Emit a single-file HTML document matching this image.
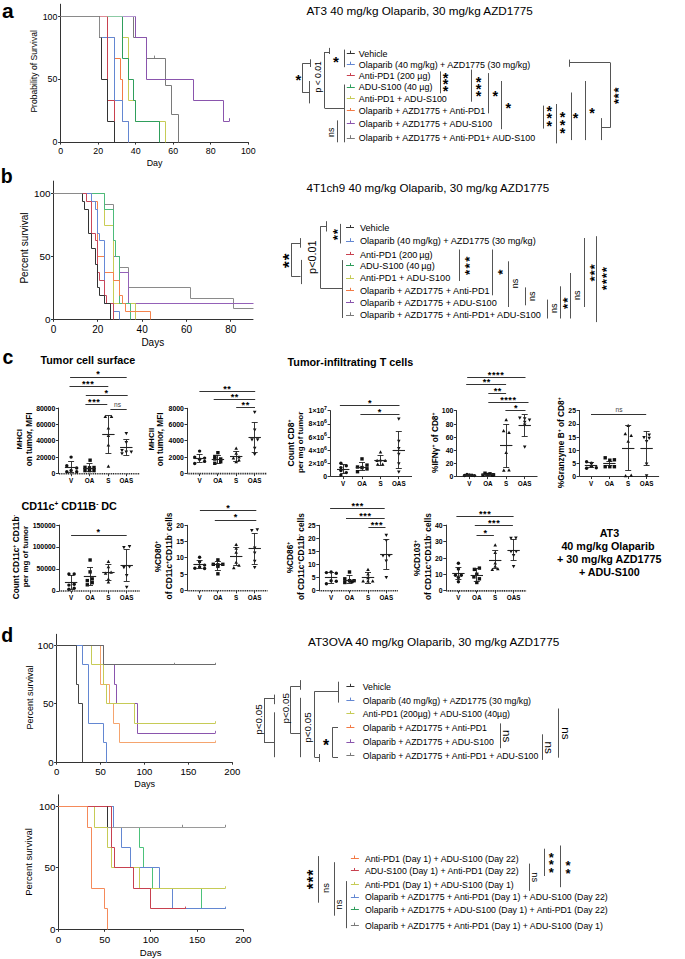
<!DOCTYPE html>
<html><head><meta charset="utf-8"><title>Figure</title>
<style>
html,body{margin:0;padding:0;background:#fff;}
body{width:685px;height:959px;overflow:hidden;}
svg{display:block;font-family:"Liberation Sans",sans-serif;}
</style></head><body>
<svg width="685" height="959" viewBox="0 0 685 959">
<rect width="685" height="959" fill="#fff"/>
<text x="2.00" y="17.60" font-size="21.00" font-weight="bold">a</text>
<line x1="60.50" y1="3.80" x2="60.50" y2="142.10" stroke="#333333" stroke-width="1.0"/>
<line x1="60.60" y1="142.50" x2="248.30" y2="142.50" stroke="#333333" stroke-width="1.0"/>
<line x1="58.10" y1="16.50" x2="60.60" y2="16.50" stroke="#333333" stroke-width="1.0"/>
<text x="57.40" y="19.70" font-size="8.80" text-anchor="end">100</text>
<line x1="58.10" y1="79.50" x2="60.60" y2="79.50" stroke="#333333" stroke-width="1.0"/>
<text x="57.40" y="82.45" font-size="8.80" text-anchor="end">50</text>
<line x1="58.10" y1="142.50" x2="60.60" y2="142.50" stroke="#333333" stroke-width="1.0"/>
<text x="57.40" y="145.20" font-size="8.80" text-anchor="end">0</text>
<line x1="60.50" y1="142.10" x2="60.50" y2="144.60" stroke="#333333" stroke-width="1.0"/>
<text x="60.60" y="153.80" font-size="8.80" text-anchor="middle">0</text>
<line x1="98.50" y1="142.10" x2="98.50" y2="144.60" stroke="#333333" stroke-width="1.0"/>
<text x="98.14" y="153.80" font-size="8.80" text-anchor="middle">20</text>
<line x1="135.50" y1="142.10" x2="135.50" y2="144.60" stroke="#333333" stroke-width="1.0"/>
<text x="135.68" y="153.80" font-size="8.80" text-anchor="middle">40</text>
<line x1="173.50" y1="142.10" x2="173.50" y2="144.60" stroke="#333333" stroke-width="1.0"/>
<text x="173.22" y="153.80" font-size="8.80" text-anchor="middle">60</text>
<line x1="210.50" y1="142.10" x2="210.50" y2="144.60" stroke="#333333" stroke-width="1.0"/>
<text x="210.76" y="153.80" font-size="8.80" text-anchor="middle">80</text>
<line x1="248.50" y1="142.10" x2="248.50" y2="144.60" stroke="#333333" stroke-width="1.0"/>
<text x="248.30" y="153.80" font-size="8.80" text-anchor="middle">100</text>
<text x="154.60" y="165.80" font-size="8.90" text-anchor="middle">Day</text>
<text x="37.30" y="71.30" font-size="8.60" text-anchor="middle" transform="rotate(-90 37.30 71.30)">Probability of Survival</text>
<path d="M60.50,16.50 L133.50,16.50 L133.50,37.50 L146.50,37.50 L146.50,58.50 L165.50,58.50 L165.50,85.50 L171.50,85.50 L171.50,114.50 L178.50,114.50 L178.50,142.50" stroke="#7a7a7a" stroke-width="1.0" fill="none"/>
<line x1="154.50" y1="58.20" x2="154.50" y2="55.60" stroke="#7a7a7a" stroke-width="0.9"/>
<path d="M60.50,16.50 L135.50,16.50 L135.50,37.50 L146.50,37.50 L146.50,79.50 L193.50,79.50 L193.50,100.50 L223.50,100.50 L223.50,121.50 L229.50,121.50" stroke="#8a55ad" stroke-width="1.0" fill="none"/>
<line x1="229.50" y1="121.20" x2="229.50" y2="118.20" stroke="#8a55ad" stroke-width="1.0"/>
<path d="M60.50,16.50 L122.50,16.50 L122.50,37.50 L128.50,37.50 L128.50,100.50 L133.50,100.50 L133.50,100.50 L135.50,100.50 L135.50,121.50 L165.50,121.50 L165.50,142.50" stroke="#c6cb56" stroke-width="1.0" fill="none"/>
<path d="M60.50,16.50 L122.50,16.50 L122.50,58.50 L128.50,58.50 L128.50,79.50 L133.50,79.50 L133.50,100.50 L135.50,100.50 L135.50,121.50 L159.50,121.50 L159.50,142.50" stroke="#2f9e5c" stroke-width="1.0" fill="none"/>
<path d="M60.50,16.50 L99.50,16.50 L99.50,37.50 L114.50,37.50 L114.50,58.50 L120.50,58.50 L120.50,79.50 L122.50,79.50 L122.50,121.50 L128.50,121.50 L128.50,142.50" stroke="#f27a45" stroke-width="1.0" fill="none"/>
<path d="M60.50,16.50 L99.50,16.50 L99.50,37.50 L114.50,37.50 L114.50,100.50 L122.50,100.50 L122.50,121.50 L128.50,121.50 L128.50,142.50" stroke="#6387d2" stroke-width="1.0" fill="none"/>
<path d="M60.50,16.50 L107.50,16.50 L107.50,100.50 L114.50,100.50 L114.50,121.50" stroke="#c8414f" stroke-width="1.0" fill="none"/>
<path d="M60.50,16.50 L99.50,16.50 L99.50,37.50 L101.50,37.50 L101.50,79.50 L107.50,79.50 L107.50,121.50 L114.50,121.50 L114.50,142.50" stroke="#333333" stroke-width="1.0" fill="none"/>
<path d="M60.50,16.50 L99.50,16.50 L99.50,37.50 L101.50,37.50" stroke="#8a8a8a" stroke-width="1.0" fill="none"/>
<line x1="99.90" y1="16.50" x2="107.50" y2="16.50" stroke="#dc8c96" stroke-width="1.0"/>
<line x1="107.50" y1="16.50" x2="122.40" y2="16.50" stroke="#8ccaa4" stroke-width="1.0"/>
<line x1="122.40" y1="16.50" x2="135.60" y2="16.50" stroke="#b497d0" stroke-width="1.0"/>
<text x="306.40" y="15.00" font-size="11.72">AT3 40 mg/kg Olaparib, 30 mg/kg AZD1775</text>
<line x1="346.80" y1="53.50" x2="354.80" y2="53.50" stroke="#333333" stroke-width="1.0"/>
<line x1="350.50" y1="50.70" x2="350.50" y2="53.50" stroke="#333333" stroke-width="1.0"/>
<text x="358.80" y="56.70" font-size="8.93">Vehicle</text>
<line x1="346.80" y1="64.50" x2="354.80" y2="64.50" stroke="#6387d2" stroke-width="1.0"/>
<line x1="350.50" y1="61.70" x2="350.50" y2="64.50" stroke="#6387d2" stroke-width="1.0"/>
<text x="358.80" y="67.70" font-size="8.93">Olaparib (40 mg/kg) + AZD1775 (30 mg/kg)</text>
<line x1="346.80" y1="75.50" x2="354.80" y2="75.50" stroke="#c8414f" stroke-width="1.0"/>
<line x1="350.50" y1="73.10" x2="350.50" y2="75.90" stroke="#c8414f" stroke-width="1.0"/>
<text x="358.80" y="79.10" font-size="8.93">Anti-PD1 (200 µg)</text>
<line x1="346.80" y1="87.50" x2="354.80" y2="87.50" stroke="#2f9e5c" stroke-width="1.0"/>
<line x1="350.50" y1="84.40" x2="350.50" y2="87.20" stroke="#2f9e5c" stroke-width="1.0"/>
<text x="358.80" y="90.40" font-size="8.93">ADU-S100 (40 µg)</text>
<line x1="346.80" y1="98.50" x2="354.80" y2="98.50" stroke="#c6cb56" stroke-width="1.0"/>
<line x1="350.50" y1="96.10" x2="350.50" y2="98.90" stroke="#c6cb56" stroke-width="1.0"/>
<text x="358.80" y="102.10" font-size="8.93">Anti-PD1 + ADU-S100</text>
<line x1="346.80" y1="110.50" x2="354.80" y2="110.50" stroke="#f27a45" stroke-width="1.0"/>
<line x1="350.50" y1="108.00" x2="350.50" y2="110.80" stroke="#f27a45" stroke-width="1.0"/>
<text x="358.80" y="114.00" font-size="8.93">Olaparib + AZD1775 + Anti-PD1</text>
<line x1="346.80" y1="123.50" x2="354.80" y2="123.50" stroke="#8a55ad" stroke-width="1.0"/>
<line x1="350.50" y1="120.60" x2="350.50" y2="123.40" stroke="#8a55ad" stroke-width="1.0"/>
<text x="358.80" y="126.60" font-size="8.93">Olaparib + AZD1775 + ADU-S100</text>
<line x1="346.80" y1="138.50" x2="354.80" y2="138.50" stroke="#7a7a7a" stroke-width="1.0"/>
<line x1="350.50" y1="135.20" x2="350.50" y2="138.00" stroke="#7a7a7a" stroke-width="1.0"/>
<text x="358.80" y="141.20" font-size="8.93">Olaparib + AZD1775 + Anti-PD1+ AUD-S100</text>
<line x1="344.50" y1="49.60" x2="344.50" y2="67.20" stroke="#555" stroke-width="1.0"/>
<text x="333.05" y="66.59" font-size="15.10" font-weight="bold">*</text>
<line x1="329.50" y1="47.90" x2="329.50" y2="54.00" stroke="#555" stroke-width="1.0"/>
<line x1="324.70" y1="52.50" x2="329.60" y2="52.50" stroke="#555" stroke-width="1.0"/>
<line x1="324.50" y1="52.00" x2="324.50" y2="108.20" stroke="#555" stroke-width="1.0"/>
<line x1="324.70" y1="108.50" x2="344.00" y2="108.50" stroke="#555" stroke-width="1.0"/>
<line x1="344.50" y1="84.50" x2="344.50" y2="142.30" stroke="#555" stroke-width="1.0"/>
<line x1="337.50" y1="120.40" x2="337.50" y2="142.30" stroke="#555" stroke-width="1.0"/>
<text x="334.30" y="132.20" font-size="8.90" text-anchor="middle" transform="rotate(-90 334.30 132.20)">ns</text>
<text x="320.80" y="76.80" font-size="8.62" text-anchor="middle" transform="rotate(-90 320.80 76.80)">p < 0.01</text>
<line x1="310.50" y1="59.30" x2="310.50" y2="67.00" stroke="#555" stroke-width="1.0"/>
<line x1="302.20" y1="63.50" x2="310.70" y2="63.50" stroke="#555" stroke-width="1.0"/>
<line x1="302.50" y1="63.90" x2="302.50" y2="92.40" stroke="#555" stroke-width="1.0"/>
<line x1="302.20" y1="92.50" x2="309.40" y2="92.50" stroke="#555" stroke-width="1.0"/>
<line x1="309.50" y1="81.00" x2="309.50" y2="103.40" stroke="#555" stroke-width="1.0"/>
<text x="295.56" y="84.83" font-size="14.58" font-weight="bold">*</text>
<line x1="440.50" y1="71.40" x2="440.50" y2="93.30" stroke="#555" stroke-width="1.0"/>
<text x="442.71" y="82.50" font-size="14.32" font-weight="bold">*</text>
<text x="442.71" y="89.10" font-size="14.32" font-weight="bold">*</text>
<text x="442.71" y="96.00" font-size="14.32" font-weight="bold">*</text>
<line x1="471.50" y1="69.60" x2="471.50" y2="101.70" stroke="#555" stroke-width="1.0"/>
<text x="475.81" y="86.90" font-size="14.32" font-weight="bold">*</text>
<text x="475.81" y="93.60" font-size="14.32" font-weight="bold">*</text>
<text x="475.81" y="100.50" font-size="14.32" font-weight="bold">*</text>
<line x1="488.50" y1="73.10" x2="488.50" y2="113.40" stroke="#555" stroke-width="1.0"/>
<text x="492.41" y="101.40" font-size="14.32" font-weight="bold">*</text>
<line x1="501.50" y1="81.00" x2="501.50" y2="129.20" stroke="#555" stroke-width="1.0"/>
<text x="505.51" y="113.10" font-size="14.32" font-weight="bold">*</text>
<line x1="543.50" y1="105.60" x2="543.50" y2="128.60" stroke="#555" stroke-width="1.0"/>
<text x="546.61" y="116.10" font-size="14.32" font-weight="bold">*</text>
<text x="546.61" y="123.30" font-size="14.32" font-weight="bold">*</text>
<text x="546.61" y="130.80" font-size="14.32" font-weight="bold">*</text>
<line x1="556.50" y1="104.00" x2="556.50" y2="143.40" stroke="#555" stroke-width="1.0"/>
<text x="559.71" y="122.00" font-size="14.32" font-weight="bold">*</text>
<text x="559.71" y="129.80" font-size="14.32" font-weight="bold">*</text>
<text x="559.71" y="137.60" font-size="14.32" font-weight="bold">*</text>
<line x1="571.50" y1="92.50" x2="571.50" y2="140.10" stroke="#555" stroke-width="1.0"/>
<text x="572.81" y="123.30" font-size="14.32" font-weight="bold">*</text>
<line x1="585.50" y1="81.00" x2="585.50" y2="140.10" stroke="#555" stroke-width="1.0"/>
<text x="589.21" y="118.40" font-size="14.32" font-weight="bold">*</text>
<line x1="569.50" y1="59.60" x2="569.50" y2="66.80" stroke="#555" stroke-width="1.0"/>
<line x1="569.40" y1="62.50" x2="610.50" y2="62.50" stroke="#555" stroke-width="1.0"/>
<line x1="610.50" y1="62.90" x2="610.50" y2="127.60" stroke="#555" stroke-width="1.0"/>
<line x1="601.30" y1="127.50" x2="610.50" y2="127.50" stroke="#555" stroke-width="1.0"/>
<line x1="601.50" y1="118.10" x2="601.50" y2="140.10" stroke="#555" stroke-width="1.0"/>
<text x="614.06" y="96.54" font-size="13.02" font-weight="bold" transform="rotate(-90 616.60 90.00)">*</text>
<text x="614.06" y="102.44" font-size="13.02" font-weight="bold" transform="rotate(-90 616.60 95.90)">*</text>
<text x="614.06" y="108.04" font-size="13.02" font-weight="bold" transform="rotate(-90 616.60 101.50)">*</text>
<text x="0.80" y="183.20" font-size="19.50" font-weight="bold">b</text>
<line x1="53.50" y1="180.70" x2="53.50" y2="319.30" stroke="#333333" stroke-width="1.0"/>
<line x1="53.50" y1="319.50" x2="253.40" y2="319.50" stroke="#333333" stroke-width="1.0"/>
<line x1="51.00" y1="193.50" x2="53.50" y2="193.50" stroke="#333333" stroke-width="1.0"/>
<text x="50.50" y="197.30" font-size="9.90" text-anchor="end">100</text>
<line x1="51.00" y1="256.50" x2="53.50" y2="256.50" stroke="#333333" stroke-width="1.0"/>
<text x="50.50" y="260.10" font-size="9.90" text-anchor="end">50</text>
<line x1="51.00" y1="319.50" x2="53.50" y2="319.50" stroke="#333333" stroke-width="1.0"/>
<text x="50.50" y="322.90" font-size="9.90" text-anchor="end">0</text>
<line x1="53.50" y1="319.30" x2="53.50" y2="321.80" stroke="#333333" stroke-width="1.0"/>
<text x="53.50" y="332.90" font-size="10.00" text-anchor="middle">0</text>
<line x1="97.50" y1="319.30" x2="97.50" y2="321.80" stroke="#333333" stroke-width="1.0"/>
<text x="97.84" y="332.90" font-size="10.00" text-anchor="middle">20</text>
<line x1="142.50" y1="319.30" x2="142.50" y2="321.80" stroke="#333333" stroke-width="1.0"/>
<text x="142.18" y="332.90" font-size="10.00" text-anchor="middle">40</text>
<line x1="186.50" y1="319.30" x2="186.50" y2="321.80" stroke="#333333" stroke-width="1.0"/>
<text x="186.52" y="332.90" font-size="10.00" text-anchor="middle">60</text>
<line x1="230.50" y1="319.30" x2="230.50" y2="321.80" stroke="#333333" stroke-width="1.0"/>
<text x="230.86" y="332.90" font-size="10.00" text-anchor="middle">80</text>
<text x="152.80" y="346.20" font-size="10.00" text-anchor="middle">Days</text>
<text x="27.60" y="248.00" font-size="10.00" text-anchor="middle" transform="rotate(-90 27.60 248.00)">Percent survival</text>
<path d="M53.50,193.50 L104.50,193.50 L104.50,204.50 L113.50,204.50 L113.50,256.50 L119.50,256.50 L119.50,267.50 L128.50,267.50 L128.50,287.50 L190.50,287.50 L190.50,298.50 L233.50,298.50 L233.50,308.50 L253.50,308.50" stroke="#8a8a8a" stroke-width="1.0" fill="none"/>
<path d="M53.50,193.50 L104.50,193.50 L104.50,209.50 L113.50,209.50 L113.50,256.50 L119.50,256.50 L119.50,272.50 L128.50,272.50 L128.50,303.50 L253.50,303.50" stroke="#9461b8" stroke-width="1.0" fill="none"/>
<path d="M53.50,193.50 L104.50,193.50 L104.50,225.50 L113.50,225.50 L113.50,303.50 L135.50,303.50 L135.50,319.50" stroke="#c9cc55" stroke-width="1.0" fill="none"/>
<path d="M53.50,193.50 L104.50,193.50 L104.50,209.50 L113.50,209.50 L113.50,240.50 L115.50,240.50 L115.50,256.50 L119.50,256.50 L119.50,303.50 L130.50,303.50 L130.50,319.50" stroke="#4dbb7a" stroke-width="1.0" fill="none"/>
<path d="M53.50,193.50 L91.50,193.50 L91.50,201.50 L97.50,201.50 L97.50,256.50 L104.50,256.50 L104.50,272.50 L113.50,272.50 L113.50,280.50 L119.50,280.50 L119.50,295.50 L122.50,295.50 L122.50,303.50 L125.50,303.50 L125.50,311.50 L150.50,311.50 L150.50,319.50" stroke="#f5834d" stroke-width="1.0" fill="none"/>
<path d="M53.50,193.50 L91.50,193.50 L91.50,201.50 L95.50,201.50 L95.50,209.50 L97.50,209.50 L97.50,233.50 L99.50,233.50 L99.50,240.50 L104.50,240.50 L104.50,303.50 L113.50,303.50 L113.50,311.50 L119.50,311.50 L119.50,319.50" stroke="#6689d6" stroke-width="1.0" fill="none"/>
<path d="M53.50,193.50 L86.50,193.50 L86.50,201.50 L91.50,201.50 L91.50,233.50 L95.50,233.50 L95.50,240.50 L97.50,240.50 L97.50,272.50 L99.50,272.50 L99.50,280.50 L104.50,280.50 L104.50,295.50 L106.50,295.50 L106.50,303.50 L113.50,303.50 L113.50,319.50" stroke="#c9475a" stroke-width="1.0" fill="none"/>
<path d="M53.50,193.50 L82.50,193.50 L82.50,201.50 L84.50,201.50 L84.50,209.50 L88.50,209.50 L88.50,233.50 L91.50,233.50 L91.50,248.50 L95.50,248.50 L95.50,264.50 L97.50,264.50 L97.50,287.50 L99.50,287.50 L99.50,295.50 L104.50,295.50 L104.50,303.50 L110.50,303.50 L110.50,319.50" stroke="#333333" stroke-width="1.0" fill="none"/>
<path d="M53.50,193.50 L82.50,193.50" stroke="#8a8a8a" stroke-width="1.0" fill="none"/>
<text x="306.50" y="191.90" font-size="11.61">4T1ch9 40 mg/kg Olaparib, 30 mg/kg AZD1775</text>
<line x1="346.00" y1="227.50" x2="354.00" y2="227.50" stroke="#333333" stroke-width="1.0"/>
<line x1="350.50" y1="225.00" x2="350.50" y2="227.80" stroke="#333333" stroke-width="1.0"/>
<text x="359.90" y="231.10" font-size="9.17">Vehicle</text>
<line x1="346.00" y1="241.50" x2="354.00" y2="241.50" stroke="#6387d2" stroke-width="1.0"/>
<line x1="350.50" y1="238.20" x2="350.50" y2="241.00" stroke="#6387d2" stroke-width="1.0"/>
<text x="359.90" y="244.30" font-size="9.17">Olaparib (40 mg/kg) + AZD1775 (30 mg/kg)</text>
<line x1="346.00" y1="254.50" x2="354.00" y2="254.50" stroke="#c8414f" stroke-width="1.0"/>
<line x1="350.50" y1="251.90" x2="350.50" y2="254.70" stroke="#c8414f" stroke-width="1.0"/>
<text x="359.90" y="258.00" font-size="9.17">Anti-PD1 (200 µg)</text>
<line x1="346.00" y1="265.50" x2="354.00" y2="265.50" stroke="#2f9e5c" stroke-width="1.0"/>
<line x1="350.50" y1="263.00" x2="350.50" y2="265.80" stroke="#2f9e5c" stroke-width="1.0"/>
<text x="359.90" y="269.10" font-size="9.17">ADU-S100 (40 µg)</text>
<line x1="346.00" y1="278.50" x2="354.00" y2="278.50" stroke="#c6cb56" stroke-width="1.0"/>
<line x1="350.50" y1="275.20" x2="350.50" y2="278.00" stroke="#c6cb56" stroke-width="1.0"/>
<text x="359.90" y="281.30" font-size="9.17">Anti-PD1 + ADU-S100</text>
<line x1="346.00" y1="290.50" x2="354.00" y2="290.50" stroke="#f27a45" stroke-width="1.0"/>
<line x1="350.50" y1="287.80" x2="350.50" y2="290.60" stroke="#f27a45" stroke-width="1.0"/>
<text x="359.90" y="293.90" font-size="9.17">Olaparib + AZD1775 + Anti-PD1</text>
<line x1="346.00" y1="302.50" x2="354.00" y2="302.50" stroke="#8a55ad" stroke-width="1.0"/>
<line x1="350.50" y1="300.00" x2="350.50" y2="302.80" stroke="#8a55ad" stroke-width="1.0"/>
<text x="359.90" y="306.10" font-size="9.17">Olaparib + AZD1775 + ADU-S100</text>
<line x1="346.00" y1="315.50" x2="354.00" y2="315.50" stroke="#7a7a7a" stroke-width="1.0"/>
<line x1="350.50" y1="312.30" x2="350.50" y2="315.10" stroke="#7a7a7a" stroke-width="1.0"/>
<text x="359.90" y="318.40" font-size="9.17">Olaparib + AZD1775 + Anti-PD1+ ADU-S100</text>
<line x1="340.50" y1="223.90" x2="340.50" y2="243.50" stroke="#555" stroke-width="1.0"/>
<text x="332.66" y="238.50" font-size="13.54" font-weight="bold" transform="rotate(-90 335.30 231.70)">*</text>
<text x="332.66" y="244.40" font-size="13.54" font-weight="bold" transform="rotate(-90 335.30 237.60)">*</text>
<line x1="326.50" y1="221.20" x2="326.50" y2="231.50" stroke="#555" stroke-width="1.0"/>
<line x1="320.30" y1="226.50" x2="326.40" y2="226.50" stroke="#555" stroke-width="1.0"/>
<line x1="320.50" y1="226.40" x2="320.50" y2="288.00" stroke="#555" stroke-width="1.0"/>
<line x1="320.30" y1="288.50" x2="342.60" y2="288.50" stroke="#555" stroke-width="1.0"/>
<line x1="342.50" y1="260.10" x2="342.50" y2="318.00" stroke="#555" stroke-width="1.0"/>
<text x="315.60" y="257.20" font-size="10.80" text-anchor="middle" transform="rotate(-90 315.60 257.20)">p<0.01</text>
<line x1="291.50" y1="243.20" x2="291.50" y2="276.50" stroke="#555" stroke-width="1.0"/>
<line x1="291.40" y1="243.50" x2="300.50" y2="243.50" stroke="#555" stroke-width="1.0"/>
<line x1="300.50" y1="238.10" x2="300.50" y2="247.70" stroke="#555" stroke-width="1.0"/>
<line x1="291.40" y1="276.50" x2="300.50" y2="276.50" stroke="#555" stroke-width="1.0"/>
<line x1="301.50" y1="259.90" x2="301.50" y2="284.10" stroke="#555" stroke-width="1.0"/>
<text x="283.15" y="265.64" font-size="17.19" font-weight="bold" transform="rotate(-90 286.50 257.00)">*</text>
<text x="283.15" y="273.34" font-size="17.19" font-weight="bold" transform="rotate(-90 286.50 264.70)">*</text>
<line x1="459.50" y1="249.50" x2="459.50" y2="281.00" stroke="#555" stroke-width="1.0"/>
<text x="464.16" y="266.00" font-size="13.54" font-weight="bold" transform="rotate(-90 466.80 259.20)">*</text>
<text x="464.16" y="272.60" font-size="13.54" font-weight="bold" transform="rotate(-90 466.80 265.80)">*</text>
<text x="464.16" y="279.20" font-size="13.54" font-weight="bold" transform="rotate(-90 466.80 272.40)">*</text>
<line x1="492.50" y1="249.50" x2="492.50" y2="295.30" stroke="#555" stroke-width="1.0"/>
<text x="497.36" y="278.80" font-size="13.54" font-weight="bold" transform="rotate(-90 500.00 272.00)">*</text>
<line x1="508.50" y1="261.30" x2="508.50" y2="307.00" stroke="#555" stroke-width="1.0"/>
<text x="517.50" y="283.50" font-size="9.00" text-anchor="middle" transform="rotate(-90 517.50 283.50)">ns</text>
<line x1="525.50" y1="287.40" x2="525.50" y2="305.30" stroke="#555" stroke-width="1.0"/>
<text x="534.70" y="296.20" font-size="9.00" text-anchor="middle" transform="rotate(-90 534.70 296.20)">ns</text>
<line x1="547.50" y1="299.60" x2="547.50" y2="318.50" stroke="#555" stroke-width="1.0"/>
<text x="556.80" y="308.20" font-size="9.00" text-anchor="middle" transform="rotate(-90 556.80 308.20)">ns</text>
<line x1="560.50" y1="286.30" x2="560.50" y2="318.50" stroke="#555" stroke-width="1.0"/>
<text x="562.56" y="307.00" font-size="13.54" font-weight="bold" transform="rotate(-90 565.20 300.20)">*</text>
<text x="562.56" y="313.20" font-size="13.54" font-weight="bold" transform="rotate(-90 565.20 306.40)">*</text>
<line x1="570.50" y1="273.00" x2="570.50" y2="318.50" stroke="#555" stroke-width="1.0"/>
<text x="580.10" y="295.30" font-size="9.00" text-anchor="middle" transform="rotate(-90 580.10 295.30)">ns</text>
<line x1="584.50" y1="238.00" x2="584.50" y2="307.00" stroke="#555" stroke-width="1.0"/>
<text x="589.36" y="273.60" font-size="13.54" font-weight="bold" transform="rotate(-90 592.00 266.80)">*</text>
<text x="589.36" y="279.60" font-size="13.54" font-weight="bold" transform="rotate(-90 592.00 272.80)">*</text>
<text x="589.36" y="285.60" font-size="13.54" font-weight="bold" transform="rotate(-90 592.00 278.80)">*</text>
<line x1="596.50" y1="236.20" x2="596.50" y2="322.10" stroke="#555" stroke-width="1.0"/>
<text x="601.16" y="276.40" font-size="13.54" font-weight="bold" transform="rotate(-90 603.80 269.60)">*</text>
<text x="601.16" y="282.40" font-size="13.54" font-weight="bold" transform="rotate(-90 603.80 275.60)">*</text>
<text x="601.16" y="288.40" font-size="13.54" font-weight="bold" transform="rotate(-90 603.80 281.60)">*</text>
<text x="601.16" y="294.40" font-size="13.54" font-weight="bold" transform="rotate(-90 603.80 287.60)">*</text>
<text x="2.60" y="364.30" font-size="19.50" font-weight="bold">c</text>
<text x="40.50" y="363.80" font-size="10.75" font-weight="bold">Tumor cell surface</text>
<text x="287.50" y="365.80" font-size="10.81" font-weight="bold">Tumor-infiltrating T cells</text>
<text x="21.50" y="509.60" font-size="10.80" font-weight="bold">CD11c<tspan font-size="6.5" dy="-4">+</tspan><tspan dy="4"> CD11B</tspan><tspan font-size="6.5" dy="-4">-</tspan><tspan dy="4"> DC</tspan></text>
<text x="609.40" y="537.20" font-size="10.75" text-anchor="middle" font-weight="bold">AT3</text>
<text x="608.00" y="550.30" font-size="10.75" text-anchor="middle" font-weight="bold">40 mg/kg Olaparib</text>
<text x="609.30" y="563.20" font-size="10.75" text-anchor="middle" font-weight="bold">+ 30 mg/kg AZD1775</text>
<text x="609.40" y="576.00" font-size="10.75" text-anchor="middle" font-weight="bold">+ ADU-S100</text>
<line x1="58.50" y1="407.60" x2="58.50" y2="473.70" stroke="#333333" stroke-width="1.0"/>
<line x1="55.90" y1="408.50" x2="58.90" y2="408.50" stroke="#333333" stroke-width="1.0"/>
<text x="55.30" y="410.55" font-size="6.90" text-anchor="end" font-weight="bold">80000</text>
<line x1="55.90" y1="424.50" x2="58.90" y2="424.50" stroke="#333333" stroke-width="1.0"/>
<text x="55.30" y="426.95" font-size="6.90" text-anchor="end" font-weight="bold">60000</text>
<line x1="55.90" y1="440.50" x2="58.90" y2="440.50" stroke="#333333" stroke-width="1.0"/>
<text x="55.30" y="443.35" font-size="6.90" text-anchor="end" font-weight="bold">40000</text>
<line x1="55.90" y1="457.50" x2="58.90" y2="457.50" stroke="#333333" stroke-width="1.0"/>
<text x="55.30" y="459.75" font-size="6.90" text-anchor="end" font-weight="bold">20000</text>
<line x1="55.90" y1="473.50" x2="58.90" y2="473.50" stroke="#333333" stroke-width="1.0"/>
<text x="55.30" y="476.15" font-size="6.90" text-anchor="end" font-weight="bold">0</text>
<line x1="58.90" y1="473.70" x2="139.60" y2="473.70" stroke="#2a2a2a" stroke-width="1.6" stroke-dasharray="1.1 0.7"/>
<line x1="71.50" y1="473.70" x2="71.50" y2="476.20" stroke="#333333" stroke-width="1.0"/>
<text x="71.10" y="483.00" font-size="6.30" text-anchor="middle" font-weight="bold">V</text>
<circle cx="71.10" cy="457.10" r="1.70" fill="#111"/>
<circle cx="66.80" cy="465.80" r="1.70" fill="#111"/>
<circle cx="76.70" cy="468.00" r="1.70" fill="#111"/>
<circle cx="66.80" cy="471.70" r="1.70" fill="#111"/>
<circle cx="71.10" cy="470.50" r="1.70" fill="#111"/>
<circle cx="76.70" cy="471.70" r="1.70" fill="#111"/>
<line x1="71.50" y1="461.70" x2="71.50" y2="472.60" stroke="#222" stroke-width="0.9"/>
<line x1="68.10" y1="461.50" x2="74.10" y2="461.50" stroke="#222" stroke-width="0.9"/>
<line x1="68.10" y1="472.50" x2="74.10" y2="472.50" stroke="#222" stroke-width="0.9"/>
<line x1="64.90" y1="467.50" x2="77.30" y2="467.50" stroke="#222" stroke-width="1.1"/>
<line x1="89.50" y1="473.70" x2="89.50" y2="476.20" stroke="#333333" stroke-width="1.0"/>
<text x="89.50" y="483.00" font-size="6.30" text-anchor="middle" font-weight="bold">OA</text>
<rect x="88.40" y="458.50" width="3.40" height="3.40" fill="#111"/>
<rect x="83.30" y="465.60" width="3.40" height="3.40" fill="#111"/>
<rect x="83.30" y="468.90" width="3.40" height="3.40" fill="#111"/>
<rect x="87.80" y="468.90" width="3.40" height="3.40" fill="#111"/>
<rect x="92.30" y="468.90" width="3.40" height="3.40" fill="#111"/>
<rect x="92.30" y="465.80" width="3.40" height="3.40" fill="#111"/>
<rect x="87.80" y="466.10" width="3.40" height="3.40" fill="#111"/>
<line x1="89.50" y1="463.90" x2="89.50" y2="471.50" stroke="#222" stroke-width="0.9"/>
<line x1="86.50" y1="463.50" x2="92.50" y2="463.50" stroke="#222" stroke-width="0.9"/>
<line x1="86.50" y1="471.50" x2="92.50" y2="471.50" stroke="#222" stroke-width="0.9"/>
<line x1="83.30" y1="468.50" x2="95.70" y2="468.50" stroke="#222" stroke-width="1.1"/>
<line x1="108.50" y1="473.70" x2="108.50" y2="476.20" stroke="#333333" stroke-width="1.0"/>
<text x="108.40" y="483.00" font-size="6.30" text-anchor="middle" font-weight="bold">S</text>
<path d="M105.30,414.86L107.08,418.09L103.52,418.09Z" fill="#111"/>
<path d="M111.50,414.86L113.28,418.09L109.72,418.09Z" fill="#111"/>
<path d="M108.40,426.36L110.19,429.59L106.62,429.59Z" fill="#111"/>
<path d="M108.40,433.76L110.19,436.99L106.62,436.99Z" fill="#111"/>
<path d="M108.40,443.36L110.19,446.59L106.62,446.59Z" fill="#111"/>
<path d="M108.40,464.46L110.19,467.69L106.62,467.69Z" fill="#111"/>
<line x1="108.50" y1="415.50" x2="108.50" y2="453.40" stroke="#222" stroke-width="0.9"/>
<line x1="105.40" y1="415.50" x2="111.40" y2="415.50" stroke="#222" stroke-width="0.9"/>
<line x1="105.40" y1="453.50" x2="111.40" y2="453.50" stroke="#222" stroke-width="0.9"/>
<line x1="102.20" y1="434.50" x2="114.60" y2="434.50" stroke="#222" stroke-width="1.1"/>
<line x1="126.50" y1="473.70" x2="126.50" y2="476.20" stroke="#333333" stroke-width="1.0"/>
<text x="126.30" y="483.00" font-size="6.30" text-anchor="middle" font-weight="bold">OAS</text>
<path d="M126.30,435.24L128.09,432.01L124.52,432.01Z" fill="#111"/>
<path d="M126.30,444.14L128.09,440.91L124.52,440.91Z" fill="#111"/>
<path d="M122.00,452.24L123.78,449.01L120.22,449.01Z" fill="#111"/>
<path d="M126.30,453.84L128.09,450.61L124.52,450.61Z" fill="#111"/>
<path d="M131.30,453.84L133.09,450.61L129.52,450.61Z" fill="#111"/>
<path d="M122.00,455.54L123.78,452.31L120.22,452.31Z" fill="#111"/>
<line x1="126.50" y1="439.50" x2="126.50" y2="455.50" stroke="#222" stroke-width="0.9"/>
<line x1="123.30" y1="439.50" x2="129.30" y2="439.50" stroke="#222" stroke-width="0.9"/>
<line x1="123.30" y1="455.50" x2="129.30" y2="455.50" stroke="#222" stroke-width="0.9"/>
<line x1="120.10" y1="447.50" x2="132.50" y2="447.50" stroke="#222" stroke-width="1.1"/>
<line x1="70.10" y1="377.50" x2="126.70" y2="377.50" stroke="#333" stroke-width="1.0"/>
<text x="96.32" y="377.48" font-size="9.11" font-weight="bold">*</text>
<line x1="69.50" y1="386.50" x2="108.30" y2="386.50" stroke="#333" stroke-width="1.0"/>
<text x="82.02" y="387.08" font-size="9.11" font-weight="bold">*</text>
<text x="86.12" y="387.08" font-size="9.11" font-weight="bold">*</text>
<text x="90.22" y="387.08" font-size="9.11" font-weight="bold">*</text>
<line x1="85.80" y1="395.50" x2="127.70" y2="395.50" stroke="#333" stroke-width="1.0"/>
<text x="104.52" y="395.68" font-size="9.11" font-weight="bold">*</text>
<line x1="85.40" y1="404.50" x2="107.30" y2="404.50" stroke="#333" stroke-width="1.0"/>
<text x="88.12" y="405.08" font-size="9.11" font-weight="bold">*</text>
<text x="92.22" y="405.08" font-size="9.11" font-weight="bold">*</text>
<text x="96.32" y="405.08" font-size="9.11" font-weight="bold">*</text>
<line x1="110.40" y1="409.50" x2="126.70" y2="409.50" stroke="#333" stroke-width="1.0"/>
<text x="117.50" y="407.00" font-size="6.60" text-anchor="middle" fill="#444">ns</text>
<text x="22.10" y="439.20" font-size="8.00" text-anchor="middle" font-weight="bold" transform="rotate(-90 22.10 439.20)">MHCI</text>
<text x="31.60" y="439.40" font-size="8.20" text-anchor="middle" font-weight="bold" transform="rotate(-90 31.60 439.40)">on tumor, MFI</text>
<line x1="187.50" y1="407.90" x2="187.50" y2="473.60" stroke="#333333" stroke-width="1.0"/>
<line x1="184.50" y1="408.50" x2="187.50" y2="408.50" stroke="#333333" stroke-width="1.0"/>
<text x="183.90" y="410.85" font-size="6.90" text-anchor="end" font-weight="bold">8000</text>
<line x1="184.50" y1="424.50" x2="187.50" y2="424.50" stroke="#333333" stroke-width="1.0"/>
<text x="183.90" y="427.05" font-size="6.90" text-anchor="end" font-weight="bold">6000</text>
<line x1="184.50" y1="440.50" x2="187.50" y2="440.50" stroke="#333333" stroke-width="1.0"/>
<text x="183.90" y="443.35" font-size="6.90" text-anchor="end" font-weight="bold">4000</text>
<line x1="184.50" y1="457.50" x2="187.50" y2="457.50" stroke="#333333" stroke-width="1.0"/>
<text x="183.90" y="459.75" font-size="6.90" text-anchor="end" font-weight="bold">2000</text>
<line x1="184.50" y1="473.50" x2="187.50" y2="473.50" stroke="#333333" stroke-width="1.0"/>
<text x="183.90" y="476.05" font-size="6.90" text-anchor="end" font-weight="bold">0</text>
<line x1="187.50" y1="473.60" x2="267.00" y2="473.60" stroke="#2a2a2a" stroke-width="1.6" stroke-dasharray="1.1 0.7"/>
<line x1="199.50" y1="473.60" x2="199.50" y2="476.10" stroke="#333333" stroke-width="1.0"/>
<text x="199.60" y="483.00" font-size="6.30" text-anchor="middle" font-weight="bold">V</text>
<circle cx="199.60" cy="451.10" r="1.70" fill="#111"/>
<circle cx="194.70" cy="457.10" r="1.70" fill="#111"/>
<circle cx="199.60" cy="459.30" r="1.70" fill="#111"/>
<circle cx="204.60" cy="458.10" r="1.70" fill="#111"/>
<circle cx="204.60" cy="461.40" r="1.70" fill="#111"/>
<circle cx="194.70" cy="463.50" r="1.70" fill="#111"/>
<line x1="199.50" y1="454.30" x2="199.50" y2="462.00" stroke="#222" stroke-width="0.9"/>
<line x1="196.60" y1="454.50" x2="202.60" y2="454.50" stroke="#222" stroke-width="0.9"/>
<line x1="196.60" y1="462.50" x2="202.60" y2="462.50" stroke="#222" stroke-width="0.9"/>
<line x1="193.40" y1="458.50" x2="205.80" y2="458.50" stroke="#222" stroke-width="1.1"/>
<line x1="217.50" y1="473.60" x2="217.50" y2="476.10" stroke="#333333" stroke-width="1.0"/>
<text x="217.90" y="483.00" font-size="6.30" text-anchor="middle" font-weight="bold">OA</text>
<rect x="216.20" y="451.00" width="3.40" height="3.40" fill="#111"/>
<rect x="213.10" y="454.80" width="3.40" height="3.40" fill="#111"/>
<rect x="213.10" y="457.30" width="3.40" height="3.40" fill="#111"/>
<rect x="213.10" y="461.60" width="3.40" height="3.40" fill="#111"/>
<rect x="219.00" y="457.30" width="3.40" height="3.40" fill="#111"/>
<rect x="219.00" y="460.10" width="3.40" height="3.40" fill="#111"/>
<line x1="217.50" y1="455.00" x2="217.50" y2="463.50" stroke="#222" stroke-width="0.9"/>
<line x1="214.90" y1="455.50" x2="220.90" y2="455.50" stroke="#222" stroke-width="0.9"/>
<line x1="214.90" y1="463.50" x2="220.90" y2="463.50" stroke="#222" stroke-width="0.9"/>
<line x1="211.70" y1="459.50" x2="224.10" y2="459.50" stroke="#222" stroke-width="1.1"/>
<line x1="236.50" y1="473.60" x2="236.50" y2="476.10" stroke="#333333" stroke-width="1.0"/>
<text x="236.20" y="483.00" font-size="6.30" text-anchor="middle" font-weight="bold">S</text>
<path d="M236.20,446.46L237.98,449.69L234.41,449.69Z" fill="#111"/>
<path d="M236.20,451.46L237.98,454.69L234.41,454.69Z" fill="#111"/>
<path d="M233.40,456.36L235.19,459.59L231.62,459.59Z" fill="#111"/>
<path d="M239.00,455.16L240.78,458.39L237.22,458.39Z" fill="#111"/>
<path d="M239.00,458.26L240.78,461.49L237.22,461.49Z" fill="#111"/>
<path d="M236.20,460.06L237.98,463.29L234.41,463.29Z" fill="#111"/>
<line x1="236.50" y1="451.10" x2="236.50" y2="461.40" stroke="#222" stroke-width="0.9"/>
<line x1="233.20" y1="451.50" x2="239.20" y2="451.50" stroke="#222" stroke-width="0.9"/>
<line x1="233.20" y1="461.50" x2="239.20" y2="461.50" stroke="#222" stroke-width="0.9"/>
<line x1="230.00" y1="456.50" x2="242.40" y2="456.50" stroke="#222" stroke-width="1.1"/>
<line x1="254.50" y1="473.60" x2="254.50" y2="476.10" stroke="#333333" stroke-width="1.0"/>
<text x="254.70" y="483.00" font-size="6.30" text-anchor="middle" font-weight="bold">OAS</text>
<path d="M254.70,413.94L256.49,410.71L252.91,410.71Z" fill="#111"/>
<path d="M254.70,431.74L256.49,428.51L252.91,428.51Z" fill="#111"/>
<path d="M252.00,441.44L253.78,438.21L250.22,438.21Z" fill="#111"/>
<path d="M257.60,441.44L259.39,438.21L255.82,438.21Z" fill="#111"/>
<path d="M254.70,450.04L256.49,446.81L252.91,446.81Z" fill="#111"/>
<path d="M254.70,455.94L256.49,452.71L252.91,452.71Z" fill="#111"/>
<line x1="254.50" y1="422.30" x2="254.50" y2="452.70" stroke="#222" stroke-width="0.9"/>
<line x1="251.70" y1="422.50" x2="257.70" y2="422.50" stroke="#222" stroke-width="0.9"/>
<line x1="251.70" y1="452.50" x2="257.70" y2="452.50" stroke="#222" stroke-width="0.9"/>
<line x1="248.50" y1="437.50" x2="260.90" y2="437.50" stroke="#222" stroke-width="1.1"/>
<line x1="199.40" y1="391.50" x2="255.20" y2="391.50" stroke="#333" stroke-width="1.0"/>
<text x="223.17" y="392.18" font-size="9.11" font-weight="bold">*</text>
<text x="227.27" y="392.18" font-size="9.11" font-weight="bold">*</text>
<line x1="213.70" y1="399.50" x2="255.20" y2="399.50" stroke="#333" stroke-width="1.0"/>
<text x="230.67" y="400.18" font-size="9.11" font-weight="bold">*</text>
<text x="234.77" y="400.18" font-size="9.11" font-weight="bold">*</text>
<line x1="236.20" y1="407.50" x2="255.00" y2="407.50" stroke="#333" stroke-width="1.0"/>
<text x="241.57" y="407.98" font-size="9.11" font-weight="bold">*</text>
<text x="245.67" y="407.98" font-size="9.11" font-weight="bold">*</text>
<text x="154.00" y="439.20" font-size="8.00" text-anchor="middle" font-weight="bold" transform="rotate(-90 154.00 439.20)">MHCII</text>
<text x="163.50" y="439.40" font-size="8.20" text-anchor="middle" font-weight="bold" transform="rotate(-90 163.50 439.40)">on tumor, MFI</text>
<line x1="330.50" y1="410.40" x2="330.50" y2="476.60" stroke="#333333" stroke-width="1.0"/>
<line x1="327.60" y1="410.50" x2="330.60" y2="410.50" stroke="#333333" stroke-width="1.0"/>
<text x="327.00" y="413.35" font-size="6.90" text-anchor="end" font-weight="bold">1×10<tspan font-size="5.2" dy="-3.2">7</tspan><tspan dy="3.2">​</tspan></text>
<line x1="327.60" y1="424.50" x2="330.60" y2="424.50" stroke="#333333" stroke-width="1.0"/>
<text x="327.00" y="426.45" font-size="6.90" text-anchor="end" font-weight="bold">8×10<tspan font-size="5.2" dy="-3.2">6</tspan><tspan dy="3.2">​</tspan></text>
<line x1="327.60" y1="437.50" x2="330.60" y2="437.50" stroke="#333333" stroke-width="1.0"/>
<text x="327.00" y="439.65" font-size="6.90" text-anchor="end" font-weight="bold">6×10<tspan font-size="5.2" dy="-3.2">6</tspan><tspan dy="3.2">​</tspan></text>
<line x1="327.60" y1="450.50" x2="330.60" y2="450.50" stroke="#333333" stroke-width="1.0"/>
<text x="327.00" y="452.75" font-size="6.90" text-anchor="end" font-weight="bold">4×10<tspan font-size="5.2" dy="-3.2">6</tspan><tspan dy="3.2">​</tspan></text>
<line x1="327.60" y1="463.50" x2="330.60" y2="463.50" stroke="#333333" stroke-width="1.0"/>
<text x="327.00" y="465.75" font-size="6.90" text-anchor="end" font-weight="bold">2×10<tspan font-size="5.2" dy="-3.2">6</tspan><tspan dy="3.2">​</tspan></text>
<line x1="327.60" y1="476.50" x2="330.60" y2="476.50" stroke="#333333" stroke-width="1.0"/>
<text x="327.00" y="479.05" font-size="6.90" text-anchor="end" font-weight="bold">0</text>
<line x1="330.60" y1="476.50" x2="412.00" y2="476.50" stroke="#333333" stroke-width="1.0"/>
<line x1="343.50" y1="476.60" x2="343.50" y2="479.10" stroke="#333333" stroke-width="1.0"/>
<text x="343.20" y="486.30" font-size="6.30" text-anchor="middle" font-weight="bold">V</text>
<circle cx="340.90" cy="463.30" r="1.70" fill="#111"/>
<circle cx="346.30" cy="465.80" r="1.70" fill="#111"/>
<circle cx="340.90" cy="467.60" r="1.70" fill="#111"/>
<circle cx="340.90" cy="470.50" r="1.70" fill="#111"/>
<circle cx="346.30" cy="472.60" r="1.70" fill="#111"/>
<circle cx="340.90" cy="475.10" r="1.70" fill="#111"/>
<line x1="343.50" y1="464.50" x2="343.50" y2="473.50" stroke="#222" stroke-width="0.9"/>
<line x1="340.20" y1="464.50" x2="346.20" y2="464.50" stroke="#222" stroke-width="0.9"/>
<line x1="340.20" y1="473.50" x2="346.20" y2="473.50" stroke="#222" stroke-width="0.9"/>
<line x1="337.00" y1="469.50" x2="349.40" y2="469.50" stroke="#222" stroke-width="1.1"/>
<line x1="362.50" y1="476.60" x2="362.50" y2="479.10" stroke="#333333" stroke-width="1.0"/>
<text x="362.00" y="486.30" font-size="6.30" text-anchor="middle" font-weight="bold">OA</text>
<rect x="360.30" y="457.20" width="3.40" height="3.40" fill="#111"/>
<rect x="355.80" y="465.30" width="3.40" height="3.40" fill="#111"/>
<rect x="360.30" y="465.90" width="3.40" height="3.40" fill="#111"/>
<rect x="365.30" y="463.40" width="3.40" height="3.40" fill="#111"/>
<rect x="365.30" y="467.20" width="3.40" height="3.40" fill="#111"/>
<rect x="355.80" y="470.00" width="3.40" height="3.40" fill="#111"/>
<line x1="362.50" y1="462.30" x2="362.50" y2="470.50" stroke="#222" stroke-width="0.9"/>
<line x1="359.00" y1="462.50" x2="365.00" y2="462.50" stroke="#222" stroke-width="0.9"/>
<line x1="359.00" y1="470.50" x2="365.00" y2="470.50" stroke="#222" stroke-width="0.9"/>
<line x1="355.80" y1="467.50" x2="368.20" y2="467.50" stroke="#222" stroke-width="1.1"/>
<line x1="380.50" y1="476.60" x2="380.50" y2="479.10" stroke="#333333" stroke-width="1.0"/>
<text x="380.50" y="486.30" font-size="6.30" text-anchor="middle" font-weight="bold">S</text>
<path d="M380.50,450.16L382.29,453.39L378.71,453.39Z" fill="#111"/>
<path d="M377.10,458.66L378.89,461.89L375.31,461.89Z" fill="#111"/>
<path d="M380.50,458.26L382.29,461.49L378.71,461.49Z" fill="#111"/>
<path d="M385.20,458.86L386.99,462.09L383.41,462.09Z" fill="#111"/>
<path d="M377.70,462.56L379.49,465.79L375.91,465.79Z" fill="#111"/>
<path d="M382.70,462.56L384.49,465.79L380.91,465.79Z" fill="#111"/>
<line x1="380.50" y1="455.20" x2="380.50" y2="465.80" stroke="#222" stroke-width="0.9"/>
<line x1="377.50" y1="455.50" x2="383.50" y2="455.50" stroke="#222" stroke-width="0.9"/>
<line x1="377.50" y1="465.50" x2="383.50" y2="465.50" stroke="#222" stroke-width="0.9"/>
<line x1="374.30" y1="460.50" x2="386.70" y2="460.50" stroke="#222" stroke-width="1.1"/>
<line x1="398.50" y1="476.60" x2="398.50" y2="479.10" stroke="#333333" stroke-width="1.0"/>
<text x="398.80" y="486.30" font-size="6.30" text-anchor="middle" font-weight="bold">OAS</text>
<path d="M398.80,420.84L400.59,417.61L397.01,417.61Z" fill="#111"/>
<path d="M398.80,442.94L400.59,439.71L397.01,439.71Z" fill="#111"/>
<path d="M398.80,450.34L400.59,447.11L397.01,447.11Z" fill="#111"/>
<path d="M398.80,455.94L400.59,452.71L397.01,452.71Z" fill="#111"/>
<path d="M398.80,465.44L400.59,462.21L397.01,462.21Z" fill="#111"/>
<path d="M398.80,473.64L400.59,470.41L397.01,470.41Z" fill="#111"/>
<line x1="398.50" y1="431.40" x2="398.50" y2="468.20" stroke="#222" stroke-width="0.9"/>
<line x1="395.80" y1="431.50" x2="401.80" y2="431.50" stroke="#222" stroke-width="0.9"/>
<line x1="395.80" y1="468.50" x2="401.80" y2="468.50" stroke="#222" stroke-width="0.9"/>
<line x1="392.60" y1="450.50" x2="405.00" y2="450.50" stroke="#222" stroke-width="1.1"/>
<line x1="339.90" y1="405.50" x2="399.50" y2="405.50" stroke="#333" stroke-width="1.0"/>
<text x="367.92" y="405.78" font-size="9.11" font-weight="bold">*</text>
<line x1="360.40" y1="414.50" x2="399.50" y2="414.50" stroke="#333" stroke-width="1.0"/>
<text x="377.82" y="415.08" font-size="9.11" font-weight="bold">*</text>
<text x="294.30" y="443.00" font-size="8.50" text-anchor="middle" font-weight="bold" transform="rotate(-90 294.30 443.00)">Count CD8<tspan font-size="5.2" dy="-3.2">+</tspan><tspan dy="3.2">​</tspan></text>
<text x="303.20" y="442.40" font-size="8.00" text-anchor="middle" font-weight="bold" transform="rotate(-90 303.20 442.40)">per mg of tumor</text>
<line x1="456.50" y1="410.40" x2="456.50" y2="476.60" stroke="#333333" stroke-width="1.0"/>
<line x1="453.90" y1="410.50" x2="456.90" y2="410.50" stroke="#333333" stroke-width="1.0"/>
<text x="453.30" y="413.35" font-size="6.90" text-anchor="end" font-weight="bold">100</text>
<line x1="453.90" y1="424.50" x2="456.90" y2="424.50" stroke="#333333" stroke-width="1.0"/>
<text x="453.30" y="426.65" font-size="6.90" text-anchor="end" font-weight="bold">80</text>
<line x1="453.90" y1="437.50" x2="456.90" y2="437.50" stroke="#333333" stroke-width="1.0"/>
<text x="453.30" y="439.65" font-size="6.90" text-anchor="end" font-weight="bold">60</text>
<line x1="453.90" y1="450.50" x2="456.90" y2="450.50" stroke="#333333" stroke-width="1.0"/>
<text x="453.30" y="453.05" font-size="6.90" text-anchor="end" font-weight="bold">40</text>
<line x1="453.90" y1="463.50" x2="456.90" y2="463.50" stroke="#333333" stroke-width="1.0"/>
<text x="453.30" y="465.95" font-size="6.90" text-anchor="end" font-weight="bold">20</text>
<line x1="453.90" y1="476.50" x2="456.90" y2="476.50" stroke="#333333" stroke-width="1.0"/>
<text x="453.30" y="479.05" font-size="6.90" text-anchor="end" font-weight="bold">0</text>
<line x1="456.90" y1="476.50" x2="537.50" y2="476.50" stroke="#333333" stroke-width="1.0"/>
<line x1="469.50" y1="476.60" x2="469.50" y2="479.10" stroke="#333333" stroke-width="1.0"/>
<text x="469.30" y="486.20" font-size="6.30" text-anchor="middle" font-weight="bold">V</text>
<circle cx="464.50" cy="475.50" r="1.70" fill="#111"/>
<circle cx="467.00" cy="474.50" r="1.70" fill="#111"/>
<circle cx="469.50" cy="474.90" r="1.70" fill="#111"/>
<circle cx="472.00" cy="475.30" r="1.70" fill="#111"/>
<circle cx="474.50" cy="475.60" r="1.70" fill="#111"/>
<line x1="469.50" y1="474.80" x2="469.50" y2="475.80" stroke="#222" stroke-width="0.9"/>
<line x1="466.30" y1="474.50" x2="472.30" y2="474.50" stroke="#222" stroke-width="0.9"/>
<line x1="466.30" y1="475.50" x2="472.30" y2="475.50" stroke="#222" stroke-width="0.9"/>
<line x1="463.10" y1="475.50" x2="475.50" y2="475.50" stroke="#222" stroke-width="1.1"/>
<line x1="487.50" y1="476.60" x2="487.50" y2="479.10" stroke="#333333" stroke-width="1.0"/>
<text x="487.90" y="486.20" font-size="6.30" text-anchor="middle" font-weight="bold">OA</text>
<rect x="481.30" y="473.40" width="3.40" height="3.40" fill="#111"/>
<rect x="483.30" y="471.50" width="3.40" height="3.40" fill="#111"/>
<rect x="485.80" y="472.80" width="3.40" height="3.40" fill="#111"/>
<rect x="488.30" y="472.10" width="3.40" height="3.40" fill="#111"/>
<rect x="490.80" y="473.40" width="3.40" height="3.40" fill="#111"/>
<rect x="491.80" y="473.10" width="3.40" height="3.40" fill="#111"/>
<line x1="487.50" y1="474.00" x2="487.50" y2="475.20" stroke="#222" stroke-width="0.9"/>
<line x1="484.90" y1="474.50" x2="490.90" y2="474.50" stroke="#222" stroke-width="0.9"/>
<line x1="484.90" y1="475.50" x2="490.90" y2="475.50" stroke="#222" stroke-width="0.9"/>
<line x1="481.70" y1="474.50" x2="494.10" y2="474.50" stroke="#222" stroke-width="1.1"/>
<line x1="506.50" y1="476.60" x2="506.50" y2="479.10" stroke="#333333" stroke-width="1.0"/>
<text x="506.20" y="486.20" font-size="6.30" text-anchor="middle" font-weight="bold">S</text>
<path d="M506.20,417.96L507.99,421.19L504.41,421.19Z" fill="#111"/>
<path d="M503.60,429.06L505.39,432.29L501.81,432.29Z" fill="#111"/>
<path d="M509.00,430.66L510.79,433.89L507.21,433.89Z" fill="#111"/>
<path d="M506.20,450.76L507.99,453.99L504.41,453.99Z" fill="#111"/>
<path d="M503.80,468.56L505.59,471.79L502.01,471.79Z" fill="#111"/>
<path d="M509.00,468.16L510.79,471.39L507.21,471.39Z" fill="#111"/>
<line x1="506.50" y1="424.40" x2="506.50" y2="467.40" stroke="#222" stroke-width="0.9"/>
<line x1="503.20" y1="424.50" x2="509.20" y2="424.50" stroke="#222" stroke-width="0.9"/>
<line x1="503.20" y1="467.50" x2="509.20" y2="467.50" stroke="#222" stroke-width="0.9"/>
<line x1="500.00" y1="445.50" x2="512.40" y2="445.50" stroke="#222" stroke-width="1.1"/>
<line x1="524.50" y1="476.60" x2="524.50" y2="479.10" stroke="#333333" stroke-width="1.0"/>
<text x="524.70" y="486.20" font-size="6.30" text-anchor="middle" font-weight="bold">OAS</text>
<path d="M519.80,419.64L521.58,416.41L518.01,416.41Z" fill="#111"/>
<path d="M524.70,420.54L526.49,417.31L522.92,417.31Z" fill="#111"/>
<path d="M524.70,424.04L526.49,420.81L522.92,420.81Z" fill="#111"/>
<path d="M529.50,421.84L531.28,418.61L527.72,418.61Z" fill="#111"/>
<path d="M524.70,426.74L526.49,423.51L522.92,423.51Z" fill="#111"/>
<path d="M524.70,448.84L526.49,445.61L522.92,445.61Z" fill="#111"/>
<line x1="524.50" y1="414.60" x2="524.50" y2="436.40" stroke="#222" stroke-width="0.9"/>
<line x1="521.70" y1="414.50" x2="527.70" y2="414.50" stroke="#222" stroke-width="0.9"/>
<line x1="521.70" y1="436.50" x2="527.70" y2="436.50" stroke="#222" stroke-width="0.9"/>
<line x1="518.50" y1="425.50" x2="530.90" y2="425.50" stroke="#222" stroke-width="1.1"/>
<line x1="467.20" y1="377.50" x2="525.50" y2="377.50" stroke="#333" stroke-width="1.0"/>
<text x="487.87" y="377.88" font-size="9.11" font-weight="bold">*</text>
<text x="491.97" y="377.88" font-size="9.11" font-weight="bold">*</text>
<text x="496.07" y="377.88" font-size="9.11" font-weight="bold">*</text>
<text x="500.17" y="377.88" font-size="9.11" font-weight="bold">*</text>
<line x1="466.20" y1="384.50" x2="506.10" y2="384.50" stroke="#333" stroke-width="1.0"/>
<text x="482.77" y="385.08" font-size="9.11" font-weight="bold">*</text>
<text x="486.87" y="385.08" font-size="9.11" font-weight="bold">*</text>
<line x1="488.30" y1="393.50" x2="506.10" y2="393.50" stroke="#333" stroke-width="1.0"/>
<text x="493.67" y="393.58" font-size="9.11" font-weight="bold">*</text>
<text x="497.77" y="393.58" font-size="9.11" font-weight="bold">*</text>
<line x1="488.30" y1="402.50" x2="528.50" y2="402.50" stroke="#333" stroke-width="1.0"/>
<text x="500.17" y="403.28" font-size="9.11" font-weight="bold">*</text>
<text x="504.27" y="403.28" font-size="9.11" font-weight="bold">*</text>
<text x="508.37" y="403.28" font-size="9.11" font-weight="bold">*</text>
<text x="512.47" y="403.28" font-size="9.11" font-weight="bold">*</text>
<line x1="505.40" y1="410.50" x2="525.50" y2="410.50" stroke="#333" stroke-width="1.0"/>
<text x="513.92" y="411.38" font-size="9.11" font-weight="bold">*</text>
<text x="438.20" y="442.70" font-size="8.30" text-anchor="middle" font-weight="bold" transform="rotate(-90 438.20 442.70)">%IFNγ<tspan font-size="5.2" dy="-3.2">+</tspan><tspan dy="3.2">​</tspan> of CD8<tspan font-size="5.2" dy="-3.2">+</tspan><tspan dy="3.2">​</tspan></text>
<line x1="579.50" y1="410.00" x2="579.50" y2="476.50" stroke="#333333" stroke-width="1.0"/>
<line x1="576.60" y1="410.50" x2="579.60" y2="410.50" stroke="#333333" stroke-width="1.0"/>
<text x="576.00" y="412.95" font-size="6.90" text-anchor="end" font-weight="bold">25</text>
<line x1="576.60" y1="424.50" x2="579.60" y2="424.50" stroke="#333333" stroke-width="1.0"/>
<text x="576.00" y="426.45" font-size="6.90" text-anchor="end" font-weight="bold">20</text>
<line x1="576.60" y1="437.50" x2="579.60" y2="437.50" stroke="#333333" stroke-width="1.0"/>
<text x="576.00" y="439.65" font-size="6.90" text-anchor="end" font-weight="bold">15</text>
<line x1="576.60" y1="450.50" x2="579.60" y2="450.50" stroke="#333333" stroke-width="1.0"/>
<text x="576.00" y="452.75" font-size="6.90" text-anchor="end" font-weight="bold">10</text>
<line x1="576.60" y1="463.50" x2="579.60" y2="463.50" stroke="#333333" stroke-width="1.0"/>
<text x="576.00" y="465.95" font-size="6.90" text-anchor="end" font-weight="bold">5</text>
<line x1="576.60" y1="476.50" x2="579.60" y2="476.50" stroke="#333333" stroke-width="1.0"/>
<text x="576.00" y="478.95" font-size="6.90" text-anchor="end" font-weight="bold">0</text>
<line x1="579.60" y1="476.50" x2="659.10" y2="476.50" stroke="#333333" stroke-width="1.0"/>
<line x1="591.50" y1="476.50" x2="591.50" y2="479.00" stroke="#333333" stroke-width="1.0"/>
<text x="591.00" y="486.20" font-size="6.30" text-anchor="middle" font-weight="bold">V</text>
<circle cx="586.60" cy="461.80" r="1.70" fill="#111"/>
<circle cx="591.40" cy="463.10" r="1.70" fill="#111"/>
<circle cx="586.60" cy="468.30" r="1.70" fill="#111"/>
<circle cx="591.40" cy="466.40" r="1.70" fill="#111"/>
<circle cx="596.30" cy="467.70" r="1.70" fill="#111"/>
<line x1="591.50" y1="462.80" x2="591.50" y2="467.30" stroke="#222" stroke-width="0.9"/>
<line x1="588.00" y1="462.50" x2="594.00" y2="462.50" stroke="#222" stroke-width="0.9"/>
<line x1="588.00" y1="467.50" x2="594.00" y2="467.50" stroke="#222" stroke-width="0.9"/>
<line x1="584.80" y1="465.50" x2="597.20" y2="465.50" stroke="#222" stroke-width="1.1"/>
<line x1="609.50" y1="476.50" x2="609.50" y2="479.00" stroke="#333333" stroke-width="1.0"/>
<text x="609.40" y="486.20" font-size="6.30" text-anchor="middle" font-weight="bold">OA</text>
<rect x="603.50" y="456.10" width="3.40" height="3.40" fill="#111"/>
<rect x="608.10" y="458.50" width="3.40" height="3.40" fill="#111"/>
<rect x="612.70" y="458.10" width="3.40" height="3.40" fill="#111"/>
<rect x="603.50" y="465.00" width="3.40" height="3.40" fill="#111"/>
<rect x="608.10" y="465.00" width="3.40" height="3.40" fill="#111"/>
<rect x="612.70" y="465.00" width="3.40" height="3.40" fill="#111"/>
<line x1="609.50" y1="461.00" x2="609.50" y2="465.00" stroke="#222" stroke-width="0.9"/>
<line x1="606.40" y1="461.50" x2="612.40" y2="461.50" stroke="#222" stroke-width="0.9"/>
<line x1="606.40" y1="465.50" x2="612.40" y2="465.50" stroke="#222" stroke-width="0.9"/>
<line x1="603.20" y1="463.50" x2="615.60" y2="463.50" stroke="#222" stroke-width="1.1"/>
<line x1="628.50" y1="476.50" x2="628.50" y2="479.00" stroke="#333333" stroke-width="1.0"/>
<text x="628.20" y="486.20" font-size="6.30" text-anchor="middle" font-weight="bold">S</text>
<path d="M628.20,423.66L629.99,426.89L626.42,426.89Z" fill="#111"/>
<path d="M625.30,431.96L627.08,435.19L623.51,435.19Z" fill="#111"/>
<path d="M631.20,433.76L632.99,436.99L629.42,436.99Z" fill="#111"/>
<path d="M628.20,439.46L629.99,442.69L626.42,442.69Z" fill="#111"/>
<path d="M625.60,474.06L627.38,477.29L623.82,477.29Z" fill="#111"/>
<path d="M631.20,473.56L632.99,476.79L629.42,476.79Z" fill="#111"/>
<line x1="628.50" y1="425.40" x2="628.50" y2="470.30" stroke="#222" stroke-width="0.9"/>
<line x1="625.20" y1="425.50" x2="631.20" y2="425.50" stroke="#222" stroke-width="0.9"/>
<line x1="625.20" y1="470.50" x2="631.20" y2="470.50" stroke="#222" stroke-width="0.9"/>
<line x1="622.00" y1="448.50" x2="634.40" y2="448.50" stroke="#222" stroke-width="1.1"/>
<line x1="646.50" y1="476.50" x2="646.50" y2="479.00" stroke="#333333" stroke-width="1.0"/>
<text x="646.60" y="486.20" font-size="6.30" text-anchor="middle" font-weight="bold">OAS</text>
<path d="M644.00,439.14L645.78,435.91L642.22,435.91Z" fill="#111"/>
<path d="M649.20,436.74L650.99,433.51L647.42,433.51Z" fill="#111"/>
<path d="M649.20,440.04L650.99,436.81L647.42,436.81Z" fill="#111"/>
<path d="M646.60,443.34L648.38,440.11L644.82,440.11Z" fill="#111"/>
<path d="M646.60,465.64L648.38,462.41L644.82,462.41Z" fill="#111"/>
<path d="M646.60,477.44L648.38,474.21L644.82,474.21Z" fill="#111"/>
<line x1="646.50" y1="431.50" x2="646.50" y2="465.00" stroke="#222" stroke-width="0.9"/>
<line x1="643.60" y1="431.50" x2="649.60" y2="431.50" stroke="#222" stroke-width="0.9"/>
<line x1="643.60" y1="465.50" x2="649.60" y2="465.50" stroke="#222" stroke-width="0.9"/>
<line x1="640.40" y1="448.50" x2="652.80" y2="448.50" stroke="#222" stroke-width="1.1"/>
<line x1="591.00" y1="414.50" x2="646.20" y2="414.50" stroke="#333" stroke-width="1.0"/>
<text x="619.00" y="412.20" font-size="6.60" text-anchor="middle" fill="#444">ns</text>
<text x="563.80" y="442.70" font-size="8.30" text-anchor="middle" font-weight="bold" transform="rotate(-90 563.80 442.70)">%Granzyme B<tspan font-size="5.2" dy="-3.2">+</tspan><tspan dy="3.2">​</tspan> of CD8<tspan font-size="5.2" dy="-3.2">+</tspan><tspan dy="3.2">​</tspan></text>
<line x1="59.50" y1="524.70" x2="59.50" y2="591.00" stroke="#333333" stroke-width="1.0"/>
<line x1="56.30" y1="525.50" x2="59.30" y2="525.50" stroke="#333333" stroke-width="1.0"/>
<text x="55.70" y="527.65" font-size="6.90" text-anchor="end" font-weight="bold">150000</text>
<line x1="56.30" y1="547.50" x2="59.30" y2="547.50" stroke="#333333" stroke-width="1.0"/>
<text x="55.70" y="549.45" font-size="6.90" text-anchor="end" font-weight="bold">100000</text>
<line x1="56.30" y1="569.50" x2="59.30" y2="569.50" stroke="#333333" stroke-width="1.0"/>
<text x="55.70" y="571.45" font-size="6.90" text-anchor="end" font-weight="bold">50000</text>
<line x1="56.30" y1="591.50" x2="59.30" y2="591.50" stroke="#333333" stroke-width="1.0"/>
<text x="55.70" y="593.45" font-size="6.90" text-anchor="end" font-weight="bold">0</text>
<line x1="59.30" y1="591.00" x2="140.00" y2="591.00" stroke="#2a2a2a" stroke-width="1.6" stroke-dasharray="1.1 0.7"/>
<line x1="71.50" y1="591.00" x2="71.50" y2="593.50" stroke="#333333" stroke-width="1.0"/>
<text x="71.10" y="600.00" font-size="6.30" text-anchor="middle" font-weight="bold">V</text>
<circle cx="68.90" cy="574.00" r="1.70" fill="#111"/>
<circle cx="74.20" cy="574.00" r="1.70" fill="#111"/>
<circle cx="68.90" cy="585.10" r="1.70" fill="#111"/>
<circle cx="74.20" cy="584.30" r="1.70" fill="#111"/>
<circle cx="68.90" cy="589.20" r="1.70" fill="#111"/>
<circle cx="74.20" cy="588.20" r="1.70" fill="#111"/>
<line x1="71.50" y1="575.20" x2="71.50" y2="589.00" stroke="#222" stroke-width="0.9"/>
<line x1="68.10" y1="575.50" x2="74.10" y2="575.50" stroke="#222" stroke-width="0.9"/>
<line x1="68.10" y1="589.50" x2="74.10" y2="589.50" stroke="#222" stroke-width="0.9"/>
<line x1="64.90" y1="582.50" x2="77.30" y2="582.50" stroke="#222" stroke-width="1.1"/>
<line x1="90.50" y1="591.00" x2="90.50" y2="593.50" stroke="#333333" stroke-width="1.0"/>
<text x="90.00" y="600.00" font-size="6.30" text-anchor="middle" font-weight="bold">OA</text>
<rect x="88.40" y="558.30" width="3.40" height="3.40" fill="#111"/>
<rect x="88.40" y="570.20" width="3.40" height="3.40" fill="#111"/>
<rect x="85.60" y="578.90" width="3.40" height="3.40" fill="#111"/>
<rect x="90.50" y="577.20" width="3.40" height="3.40" fill="#111"/>
<rect x="90.50" y="581.00" width="3.40" height="3.40" fill="#111"/>
<rect x="85.60" y="583.10" width="3.40" height="3.40" fill="#111"/>
<line x1="90.50" y1="567.40" x2="90.50" y2="585.10" stroke="#222" stroke-width="0.9"/>
<line x1="87.00" y1="567.50" x2="93.00" y2="567.50" stroke="#222" stroke-width="0.9"/>
<line x1="87.00" y1="585.50" x2="93.00" y2="585.50" stroke="#222" stroke-width="0.9"/>
<line x1="83.80" y1="576.50" x2="96.20" y2="576.50" stroke="#222" stroke-width="1.1"/>
<line x1="108.50" y1="591.00" x2="108.50" y2="593.50" stroke="#333333" stroke-width="1.0"/>
<text x="108.40" y="600.00" font-size="6.30" text-anchor="middle" font-weight="bold">S</text>
<path d="M108.40,559.66L110.19,562.89L106.62,562.89Z" fill="#111"/>
<path d="M108.40,564.96L110.19,568.19L106.62,568.19Z" fill="#111"/>
<path d="M105.60,571.46L107.38,574.69L103.81,574.69Z" fill="#111"/>
<path d="M111.10,570.46L112.88,573.69L109.31,573.69Z" fill="#111"/>
<path d="M108.40,577.36L110.19,580.59L106.62,580.59Z" fill="#111"/>
<path d="M108.40,580.36L110.19,583.59L106.62,583.59Z" fill="#111"/>
<line x1="108.50" y1="564.90" x2="108.50" y2="580.20" stroke="#222" stroke-width="0.9"/>
<line x1="105.40" y1="564.50" x2="111.40" y2="564.50" stroke="#222" stroke-width="0.9"/>
<line x1="105.40" y1="580.50" x2="111.40" y2="580.50" stroke="#222" stroke-width="0.9"/>
<line x1="102.20" y1="572.50" x2="114.60" y2="572.50" stroke="#222" stroke-width="1.1"/>
<line x1="126.50" y1="591.00" x2="126.50" y2="593.50" stroke="#333333" stroke-width="1.0"/>
<text x="126.70" y="600.00" font-size="6.30" text-anchor="middle" font-weight="bold">OAS</text>
<path d="M123.90,549.24L125.69,546.01L122.12,546.01Z" fill="#111"/>
<path d="M129.50,548.24L131.28,545.01L127.72,545.01Z" fill="#111"/>
<path d="M123.90,569.14L125.69,565.91L122.12,565.91Z" fill="#111"/>
<path d="M129.50,568.44L131.28,565.21L127.72,565.21Z" fill="#111"/>
<path d="M126.70,577.14L128.49,573.91L124.92,573.91Z" fill="#111"/>
<path d="M126.70,588.94L128.49,585.71L124.92,585.71Z" fill="#111"/>
<line x1="126.50" y1="549.50" x2="126.50" y2="581.00" stroke="#222" stroke-width="0.9"/>
<line x1="123.70" y1="549.50" x2="129.70" y2="549.50" stroke="#222" stroke-width="0.9"/>
<line x1="123.70" y1="581.50" x2="129.70" y2="581.50" stroke="#222" stroke-width="0.9"/>
<line x1="120.50" y1="565.50" x2="132.90" y2="565.50" stroke="#222" stroke-width="1.1"/>
<line x1="71.10" y1="535.50" x2="126.70" y2="535.50" stroke="#333" stroke-width="1.0"/>
<text x="96.62" y="535.48" font-size="9.11" font-weight="bold">*</text>
<text x="19.30" y="557.00" font-size="8.30" text-anchor="middle" font-weight="bold" transform="rotate(-90 19.30 557.00)">Count CD11c<tspan font-size="5.2" dy="-3.2">+</tspan><tspan dy="3.2">​</tspan> CD11b<tspan font-size="5.2" dy="-3.2">-</tspan><tspan dy="3.2">​</tspan></text>
<text x="28.40" y="556.60" font-size="8.00" text-anchor="middle" font-weight="bold" transform="rotate(-90 28.40 556.60)">per mg of tumor</text>
<line x1="187.50" y1="524.90" x2="187.50" y2="590.80" stroke="#333333" stroke-width="1.0"/>
<line x1="184.50" y1="525.50" x2="187.50" y2="525.50" stroke="#333333" stroke-width="1.0"/>
<text x="183.90" y="527.85" font-size="6.90" text-anchor="end" font-weight="bold">20</text>
<line x1="184.50" y1="541.50" x2="187.50" y2="541.50" stroke="#333333" stroke-width="1.0"/>
<text x="183.90" y="544.05" font-size="6.90" text-anchor="end" font-weight="bold">15</text>
<line x1="184.50" y1="557.50" x2="187.50" y2="557.50" stroke="#333333" stroke-width="1.0"/>
<text x="183.90" y="560.35" font-size="6.90" text-anchor="end" font-weight="bold">10</text>
<line x1="184.50" y1="574.50" x2="187.50" y2="574.50" stroke="#333333" stroke-width="1.0"/>
<text x="183.90" y="576.95" font-size="6.90" text-anchor="end" font-weight="bold">5</text>
<line x1="184.50" y1="590.50" x2="187.50" y2="590.50" stroke="#333333" stroke-width="1.0"/>
<text x="183.90" y="593.25" font-size="6.90" text-anchor="end" font-weight="bold">0</text>
<line x1="187.50" y1="590.80" x2="267.50" y2="590.80" stroke="#2a2a2a" stroke-width="1.6" stroke-dasharray="1.1 0.7"/>
<line x1="199.50" y1="590.80" x2="199.50" y2="593.30" stroke="#333333" stroke-width="1.0"/>
<text x="199.60" y="600.00" font-size="6.30" text-anchor="middle" font-weight="bold">V</text>
<circle cx="199.60" cy="557.30" r="1.70" fill="#111"/>
<circle cx="199.60" cy="561.70" r="1.70" fill="#111"/>
<circle cx="194.90" cy="568.20" r="1.70" fill="#111"/>
<circle cx="199.60" cy="567.00" r="1.70" fill="#111"/>
<circle cx="204.60" cy="565.10" r="1.70" fill="#111"/>
<circle cx="204.60" cy="568.50" r="1.70" fill="#111"/>
<line x1="199.50" y1="560.40" x2="199.50" y2="568.60" stroke="#222" stroke-width="0.9"/>
<line x1="196.60" y1="560.50" x2="202.60" y2="560.50" stroke="#222" stroke-width="0.9"/>
<line x1="196.60" y1="568.50" x2="202.60" y2="568.50" stroke="#222" stroke-width="0.9"/>
<line x1="193.40" y1="564.50" x2="205.80" y2="564.50" stroke="#222" stroke-width="1.1"/>
<line x1="217.50" y1="590.80" x2="217.50" y2="593.30" stroke="#333333" stroke-width="1.0"/>
<text x="217.90" y="600.00" font-size="6.30" text-anchor="middle" font-weight="bold">OA</text>
<rect x="216.20" y="558.20" width="3.40" height="3.40" fill="#111"/>
<rect x="211.60" y="562.60" width="3.40" height="3.40" fill="#111"/>
<rect x="216.20" y="564.70" width="3.40" height="3.40" fill="#111"/>
<rect x="221.10" y="562.60" width="3.40" height="3.40" fill="#111"/>
<rect x="216.20" y="563.10" width="3.40" height="3.40" fill="#111"/>
<rect x="216.20" y="572.10" width="3.40" height="3.40" fill="#111"/>
<line x1="217.50" y1="561.80" x2="217.50" y2="570.50" stroke="#222" stroke-width="0.9"/>
<line x1="214.90" y1="561.50" x2="220.90" y2="561.50" stroke="#222" stroke-width="0.9"/>
<line x1="214.90" y1="570.50" x2="220.90" y2="570.50" stroke="#222" stroke-width="0.9"/>
<line x1="211.70" y1="564.50" x2="224.10" y2="564.50" stroke="#222" stroke-width="1.1"/>
<line x1="236.50" y1="590.80" x2="236.50" y2="593.30" stroke="#333333" stroke-width="1.0"/>
<text x="236.20" y="600.00" font-size="6.30" text-anchor="middle" font-weight="bold">S</text>
<path d="M236.20,542.76L237.98,545.99L234.41,545.99Z" fill="#111"/>
<path d="M236.20,546.46L237.98,549.69L234.41,549.69Z" fill="#111"/>
<path d="M236.20,550.46L237.98,553.69L234.41,553.69Z" fill="#111"/>
<path d="M236.20,560.46L237.98,563.69L234.41,563.69Z" fill="#111"/>
<path d="M233.80,566.06L235.59,569.29L232.02,569.29Z" fill="#111"/>
<path d="M239.00,563.56L240.78,566.79L237.22,566.79Z" fill="#111"/>
<line x1="236.50" y1="547.40" x2="236.50" y2="565.00" stroke="#222" stroke-width="0.9"/>
<line x1="233.20" y1="547.50" x2="239.20" y2="547.50" stroke="#222" stroke-width="0.9"/>
<line x1="233.20" y1="565.50" x2="239.20" y2="565.50" stroke="#222" stroke-width="0.9"/>
<line x1="230.00" y1="556.50" x2="242.40" y2="556.50" stroke="#222" stroke-width="1.1"/>
<line x1="254.50" y1="590.80" x2="254.50" y2="593.30" stroke="#333333" stroke-width="1.0"/>
<text x="254.70" y="600.00" font-size="6.30" text-anchor="middle" font-weight="bold">OAS</text>
<path d="M251.80,532.34L253.59,529.11L250.02,529.11Z" fill="#111"/>
<path d="M257.30,531.44L259.09,528.21L255.52,528.21Z" fill="#111"/>
<path d="M254.70,549.74L256.49,546.51L252.91,546.51Z" fill="#111"/>
<path d="M254.70,554.64L256.49,551.41L252.91,551.41Z" fill="#111"/>
<path d="M254.70,562.94L256.49,559.71L252.91,559.71Z" fill="#111"/>
<path d="M254.70,569.34L256.49,566.11L252.91,566.11Z" fill="#111"/>
<line x1="254.50" y1="533.30" x2="254.50" y2="564.20" stroke="#222" stroke-width="0.9"/>
<line x1="251.70" y1="533.50" x2="257.70" y2="533.50" stroke="#222" stroke-width="0.9"/>
<line x1="251.70" y1="564.50" x2="257.70" y2="564.50" stroke="#222" stroke-width="0.9"/>
<line x1="248.50" y1="548.50" x2="260.90" y2="548.50" stroke="#222" stroke-width="1.1"/>
<line x1="199.90" y1="510.50" x2="256.30" y2="510.50" stroke="#333" stroke-width="1.0"/>
<text x="226.32" y="510.78" font-size="9.11" font-weight="bold">*</text>
<line x1="214.80" y1="520.50" x2="256.30" y2="520.50" stroke="#333" stroke-width="1.0"/>
<text x="233.72" y="520.48" font-size="9.11" font-weight="bold">*</text>
<text x="161.30" y="556.50" font-size="8.30" text-anchor="middle" font-weight="bold" transform="rotate(-90 161.30 556.50)">%CD80<tspan font-size="5.2" dy="-3.2">+</tspan><tspan dy="3.2">​</tspan></text>
<text x="172.30" y="556.00" font-size="8.30" text-anchor="middle" font-weight="bold" transform="rotate(-90 172.30 556.00)">of CD11c<tspan font-size="5.2" dy="-3.2">+</tspan><tspan dy="3.2">​</tspan>CD11b<tspan font-size="5.2" dy="-3.2">-</tspan><tspan dy="3.2">​</tspan> cells</text>
<line x1="319.50" y1="524.90" x2="319.50" y2="590.80" stroke="#333333" stroke-width="1.0"/>
<line x1="316.30" y1="525.50" x2="319.30" y2="525.50" stroke="#333333" stroke-width="1.0"/>
<text x="315.70" y="527.85" font-size="6.90" text-anchor="end" font-weight="bold">25</text>
<line x1="316.30" y1="538.50" x2="319.30" y2="538.50" stroke="#333333" stroke-width="1.0"/>
<text x="315.70" y="540.95" font-size="6.90" text-anchor="end" font-weight="bold">20</text>
<line x1="316.30" y1="551.50" x2="319.30" y2="551.50" stroke="#333333" stroke-width="1.0"/>
<text x="315.70" y="553.95" font-size="6.90" text-anchor="end" font-weight="bold">15</text>
<line x1="316.30" y1="564.50" x2="319.30" y2="564.50" stroke="#333333" stroke-width="1.0"/>
<text x="315.70" y="566.95" font-size="6.90" text-anchor="end" font-weight="bold">10</text>
<line x1="316.30" y1="577.50" x2="319.30" y2="577.50" stroke="#333333" stroke-width="1.0"/>
<text x="315.70" y="580.05" font-size="6.90" text-anchor="end" font-weight="bold">5</text>
<line x1="316.30" y1="590.50" x2="319.30" y2="590.50" stroke="#333333" stroke-width="1.0"/>
<text x="315.70" y="593.25" font-size="6.90" text-anchor="end" font-weight="bold">0</text>
<line x1="319.30" y1="590.80" x2="398.30" y2="590.80" stroke="#2a2a2a" stroke-width="1.6" stroke-dasharray="1.1 0.7"/>
<line x1="331.50" y1="590.80" x2="331.50" y2="593.30" stroke="#333333" stroke-width="1.0"/>
<text x="331.10" y="600.00" font-size="6.30" text-anchor="middle" font-weight="bold">V</text>
<circle cx="326.40" cy="572.60" r="1.70" fill="#111"/>
<circle cx="331.10" cy="572.00" r="1.70" fill="#111"/>
<circle cx="336.30" cy="573.20" r="1.70" fill="#111"/>
<circle cx="331.10" cy="580.70" r="1.70" fill="#111"/>
<circle cx="336.30" cy="581.30" r="1.70" fill="#111"/>
<circle cx="326.40" cy="583.80" r="1.70" fill="#111"/>
<line x1="331.50" y1="572.00" x2="331.50" y2="583.00" stroke="#222" stroke-width="0.9"/>
<line x1="328.10" y1="572.50" x2="334.10" y2="572.50" stroke="#222" stroke-width="0.9"/>
<line x1="328.10" y1="583.50" x2="334.10" y2="583.50" stroke="#222" stroke-width="0.9"/>
<line x1="324.90" y1="577.50" x2="337.30" y2="577.50" stroke="#222" stroke-width="1.1"/>
<line x1="349.50" y1="590.80" x2="349.50" y2="593.30" stroke="#333333" stroke-width="1.0"/>
<text x="349.50" y="600.00" font-size="6.30" text-anchor="middle" font-weight="bold">OA</text>
<rect x="347.80" y="570.30" width="3.40" height="3.40" fill="#111"/>
<rect x="343.10" y="577.10" width="3.40" height="3.40" fill="#111"/>
<rect x="343.10" y="580.80" width="3.40" height="3.40" fill="#111"/>
<rect x="347.80" y="579.00" width="3.40" height="3.40" fill="#111"/>
<rect x="352.40" y="579.00" width="3.40" height="3.40" fill="#111"/>
<rect x="350.30" y="579.80" width="3.40" height="3.40" fill="#111"/>
<line x1="349.50" y1="575.40" x2="349.50" y2="583.00" stroke="#222" stroke-width="0.9"/>
<line x1="346.50" y1="575.50" x2="352.50" y2="575.50" stroke="#222" stroke-width="0.9"/>
<line x1="346.50" y1="583.50" x2="352.50" y2="583.50" stroke="#222" stroke-width="0.9"/>
<line x1="343.30" y1="580.50" x2="355.70" y2="580.50" stroke="#222" stroke-width="1.1"/>
<line x1="368.50" y1="590.80" x2="368.50" y2="593.30" stroke="#333333" stroke-width="1.0"/>
<text x="368.00" y="600.00" font-size="6.30" text-anchor="middle" font-weight="bold">S</text>
<path d="M368.00,567.76L369.79,570.99L366.21,570.99Z" fill="#111"/>
<path d="M368.00,572.26L369.79,575.49L366.21,575.49Z" fill="#111"/>
<path d="M368.00,575.96L369.79,579.19L366.21,579.19Z" fill="#111"/>
<path d="M363.10,579.36L364.89,582.59L361.31,582.59Z" fill="#111"/>
<path d="M368.00,579.36L369.79,582.59L366.21,582.59Z" fill="#111"/>
<path d="M372.70,579.36L374.49,582.59L370.91,582.59Z" fill="#111"/>
<line x1="368.50" y1="572.20" x2="368.50" y2="583.00" stroke="#222" stroke-width="0.9"/>
<line x1="365.00" y1="572.50" x2="371.00" y2="572.50" stroke="#222" stroke-width="0.9"/>
<line x1="365.00" y1="583.50" x2="371.00" y2="583.50" stroke="#222" stroke-width="0.9"/>
<line x1="361.80" y1="577.50" x2="374.20" y2="577.50" stroke="#222" stroke-width="1.1"/>
<line x1="386.50" y1="590.80" x2="386.50" y2="593.30" stroke="#333333" stroke-width="1.0"/>
<text x="386.30" y="600.00" font-size="6.30" text-anchor="middle" font-weight="bold">OAS</text>
<path d="M386.30,536.94L388.09,533.71L384.51,533.71Z" fill="#111"/>
<path d="M383.00,557.54L384.79,554.31L381.21,554.31Z" fill="#111"/>
<path d="M389.20,557.54L390.99,554.31L387.41,554.31Z" fill="#111"/>
<path d="M386.30,562.74L388.09,559.51L384.51,559.51Z" fill="#111"/>
<path d="M386.30,579.14L388.09,575.91L384.51,575.91Z" fill="#111"/>
<path d="M386.30,542.24L388.09,539.01L384.51,539.01Z" fill="#111"/>
<line x1="386.50" y1="539.50" x2="386.50" y2="569.20" stroke="#222" stroke-width="0.9"/>
<line x1="383.30" y1="539.50" x2="389.30" y2="539.50" stroke="#222" stroke-width="0.9"/>
<line x1="383.30" y1="569.50" x2="389.30" y2="569.50" stroke="#222" stroke-width="0.9"/>
<line x1="380.10" y1="554.50" x2="392.50" y2="554.50" stroke="#222" stroke-width="1.1"/>
<line x1="330.10" y1="508.50" x2="384.70" y2="508.50" stroke="#333" stroke-width="1.0"/>
<text x="351.52" y="509.18" font-size="9.11" font-weight="bold">*</text>
<text x="355.62" y="509.18" font-size="9.11" font-weight="bold">*</text>
<text x="359.72" y="509.18" font-size="9.11" font-weight="bold">*</text>
<line x1="346.00" y1="518.50" x2="384.70" y2="518.50" stroke="#333" stroke-width="1.0"/>
<text x="359.22" y="518.58" font-size="9.11" font-weight="bold">*</text>
<text x="363.32" y="518.58" font-size="9.11" font-weight="bold">*</text>
<text x="367.42" y="518.58" font-size="9.11" font-weight="bold">*</text>
<line x1="368.40" y1="527.50" x2="385.50" y2="527.50" stroke="#333" stroke-width="1.0"/>
<text x="370.72" y="527.88" font-size="9.11" font-weight="bold">*</text>
<text x="374.82" y="527.88" font-size="9.11" font-weight="bold">*</text>
<text x="378.92" y="527.88" font-size="9.11" font-weight="bold">*</text>
<text x="293.20" y="557.50" font-size="8.30" text-anchor="middle" font-weight="bold" transform="rotate(-90 293.20 557.50)">%CD86<tspan font-size="5.2" dy="-3.2">+</tspan><tspan dy="3.2">​</tspan></text>
<text x="304.40" y="556.60" font-size="8.30" text-anchor="middle" font-weight="bold" transform="rotate(-90 304.40 556.60)">of CD11c<tspan font-size="5.2" dy="-3.2">+</tspan><tspan dy="3.2">​</tspan>CD11b<tspan font-size="5.2" dy="-3.2">-</tspan><tspan dy="3.2">​</tspan> cells</text>
<line x1="446.50" y1="524.70" x2="446.50" y2="590.90" stroke="#333333" stroke-width="1.0"/>
<line x1="443.30" y1="525.50" x2="446.30" y2="525.50" stroke="#333333" stroke-width="1.0"/>
<text x="442.70" y="527.65" font-size="6.90" text-anchor="end" font-weight="bold">40</text>
<line x1="443.30" y1="541.50" x2="446.30" y2="541.50" stroke="#333333" stroke-width="1.0"/>
<text x="442.70" y="543.85" font-size="6.90" text-anchor="end" font-weight="bold">30</text>
<line x1="443.30" y1="558.50" x2="446.30" y2="558.50" stroke="#333333" stroke-width="1.0"/>
<text x="442.70" y="560.65" font-size="6.90" text-anchor="end" font-weight="bold">20</text>
<line x1="443.30" y1="574.50" x2="446.30" y2="574.50" stroke="#333333" stroke-width="1.0"/>
<text x="442.70" y="576.65" font-size="6.90" text-anchor="end" font-weight="bold">10</text>
<line x1="443.30" y1="590.50" x2="446.30" y2="590.50" stroke="#333333" stroke-width="1.0"/>
<text x="442.70" y="593.35" font-size="6.90" text-anchor="end" font-weight="bold">0</text>
<line x1="446.30" y1="590.90" x2="526.10" y2="590.90" stroke="#2a2a2a" stroke-width="1.6" stroke-dasharray="1.1 0.7"/>
<line x1="458.50" y1="590.90" x2="458.50" y2="593.40" stroke="#333333" stroke-width="1.0"/>
<text x="458.40" y="600.00" font-size="6.30" text-anchor="middle" font-weight="bold">V</text>
<circle cx="458.40" cy="563.30" r="1.70" fill="#111"/>
<circle cx="458.40" cy="569.00" r="1.70" fill="#111"/>
<circle cx="455.50" cy="575.20" r="1.70" fill="#111"/>
<circle cx="461.30" cy="575.20" r="1.70" fill="#111"/>
<circle cx="458.40" cy="577.50" r="1.70" fill="#111"/>
<circle cx="458.40" cy="581.70" r="1.70" fill="#111"/>
<line x1="458.50" y1="567.30" x2="458.50" y2="579.50" stroke="#222" stroke-width="0.9"/>
<line x1="455.40" y1="567.50" x2="461.40" y2="567.50" stroke="#222" stroke-width="0.9"/>
<line x1="455.40" y1="579.50" x2="461.40" y2="579.50" stroke="#222" stroke-width="0.9"/>
<line x1="452.20" y1="573.50" x2="464.60" y2="573.50" stroke="#222" stroke-width="1.1"/>
<line x1="476.50" y1="590.90" x2="476.50" y2="593.40" stroke="#333333" stroke-width="1.0"/>
<text x="476.80" y="600.00" font-size="6.30" text-anchor="middle" font-weight="bold">OA</text>
<rect x="472.70" y="567.70" width="3.40" height="3.40" fill="#111"/>
<rect x="477.70" y="566.40" width="3.40" height="3.40" fill="#111"/>
<rect x="475.10" y="572.50" width="3.40" height="3.40" fill="#111"/>
<rect x="472.20" y="575.20" width="3.40" height="3.40" fill="#111"/>
<rect x="477.70" y="577.10" width="3.40" height="3.40" fill="#111"/>
<rect x="475.10" y="580.80" width="3.40" height="3.40" fill="#111"/>
<line x1="476.50" y1="568.60" x2="476.50" y2="581.00" stroke="#222" stroke-width="0.9"/>
<line x1="473.80" y1="568.50" x2="479.80" y2="568.50" stroke="#222" stroke-width="0.9"/>
<line x1="473.80" y1="581.50" x2="479.80" y2="581.50" stroke="#222" stroke-width="0.9"/>
<line x1="470.60" y1="575.50" x2="483.00" y2="575.50" stroke="#222" stroke-width="1.1"/>
<line x1="495.50" y1="590.90" x2="495.50" y2="593.40" stroke="#333333" stroke-width="1.0"/>
<text x="495.20" y="600.00" font-size="6.30" text-anchor="middle" font-weight="bold">S</text>
<path d="M495.20,543.36L496.99,546.59L493.41,546.59Z" fill="#111"/>
<path d="M495.20,550.66L496.99,553.89L493.41,553.89Z" fill="#111"/>
<path d="M495.20,561.16L496.99,564.39L493.41,564.39Z" fill="#111"/>
<path d="M495.20,564.46L496.99,567.69L493.41,567.69Z" fill="#111"/>
<path d="M492.30,567.66L494.09,570.89L490.51,570.89Z" fill="#111"/>
<path d="M497.80,567.06L499.59,570.29L496.01,570.29Z" fill="#111"/>
<line x1="495.50" y1="550.60" x2="495.50" y2="568.00" stroke="#222" stroke-width="0.9"/>
<line x1="492.20" y1="550.50" x2="498.20" y2="550.50" stroke="#222" stroke-width="0.9"/>
<line x1="492.20" y1="568.50" x2="498.20" y2="568.50" stroke="#222" stroke-width="0.9"/>
<line x1="489.00" y1="560.50" x2="501.40" y2="560.50" stroke="#222" stroke-width="1.1"/>
<line x1="513.50" y1="590.90" x2="513.50" y2="593.40" stroke="#333333" stroke-width="1.0"/>
<text x="513.60" y="600.00" font-size="6.30" text-anchor="middle" font-weight="bold">OAS</text>
<path d="M511.00,540.04L512.78,536.81L509.21,536.81Z" fill="#111"/>
<path d="M515.90,539.74L517.68,536.51L514.12,536.51Z" fill="#111"/>
<path d="M511.00,553.14L512.78,549.91L509.21,549.91Z" fill="#111"/>
<path d="M516.20,553.14L517.99,549.91L514.42,549.91Z" fill="#111"/>
<path d="M513.60,557.14L515.38,553.91L511.81,553.91Z" fill="#111"/>
<path d="M513.60,568.34L515.38,565.11L511.81,565.11Z" fill="#111"/>
<line x1="513.50" y1="539.40" x2="513.50" y2="560.40" stroke="#222" stroke-width="0.9"/>
<line x1="510.60" y1="539.50" x2="516.60" y2="539.50" stroke="#222" stroke-width="0.9"/>
<line x1="510.60" y1="560.50" x2="516.60" y2="560.50" stroke="#222" stroke-width="0.9"/>
<line x1="507.40" y1="550.50" x2="519.80" y2="550.50" stroke="#222" stroke-width="1.1"/>
<line x1="456.40" y1="516.50" x2="513.60" y2="516.50" stroke="#333" stroke-width="1.0"/>
<text x="479.02" y="516.78" font-size="9.11" font-weight="bold">*</text>
<text x="483.12" y="516.78" font-size="9.11" font-weight="bold">*</text>
<text x="487.22" y="516.78" font-size="9.11" font-weight="bold">*</text>
<line x1="474.80" y1="525.50" x2="512.90" y2="525.50" stroke="#333" stroke-width="1.0"/>
<text x="488.02" y="525.58" font-size="9.11" font-weight="bold">*</text>
<text x="492.12" y="525.58" font-size="9.11" font-weight="bold">*</text>
<text x="496.22" y="525.58" font-size="9.11" font-weight="bold">*</text>
<line x1="476.50" y1="535.50" x2="493.90" y2="535.50" stroke="#333" stroke-width="1.0"/>
<text x="483.52" y="536.08" font-size="9.11" font-weight="bold">*</text>
<text x="420.00" y="558.20" font-size="8.30" text-anchor="middle" font-weight="bold" transform="rotate(-90 420.00 558.20)">%CD103<tspan font-size="5.2" dy="-3.2">+</tspan><tspan dy="3.2">​</tspan></text>
<text x="431.30" y="556.60" font-size="8.30" text-anchor="middle" font-weight="bold" transform="rotate(-90 431.30 556.60)">of CD11c<tspan font-size="5.2" dy="-3.2">+</tspan><tspan dy="3.2">​</tspan>CD11b<tspan font-size="5.2" dy="-3.2">-</tspan><tspan dy="3.2">​</tspan> cells</text>
<text x="1.20" y="641.90" font-size="19.50" font-weight="bold">d</text>
<line x1="56.50" y1="633.90" x2="56.50" y2="762.20" stroke="#333333" stroke-width="1.0"/>
<line x1="56.60" y1="762.50" x2="232.50" y2="762.50" stroke="#333333" stroke-width="1.0"/>
<line x1="54.10" y1="645.50" x2="56.60" y2="645.50" stroke="#333333" stroke-width="1.0"/>
<text x="53.60" y="648.96" font-size="9.60" text-anchor="end">100</text>
<line x1="54.10" y1="703.50" x2="56.60" y2="703.50" stroke="#333333" stroke-width="1.0"/>
<text x="53.60" y="707.31" font-size="9.60" text-anchor="end">50</text>
<line x1="54.10" y1="762.50" x2="56.60" y2="762.50" stroke="#333333" stroke-width="1.0"/>
<text x="53.60" y="765.66" font-size="9.60" text-anchor="end">0</text>
<line x1="56.50" y1="762.20" x2="56.50" y2="764.70" stroke="#333333" stroke-width="1.0"/>
<text x="56.60" y="775.00" font-size="9.60" text-anchor="middle">0</text>
<line x1="100.50" y1="762.20" x2="100.50" y2="764.70" stroke="#333333" stroke-width="1.0"/>
<text x="100.53" y="775.00" font-size="9.60" text-anchor="middle">50</text>
<line x1="144.50" y1="762.20" x2="144.50" y2="764.70" stroke="#333333" stroke-width="1.0"/>
<text x="144.46" y="775.00" font-size="9.60" text-anchor="middle">100</text>
<line x1="188.50" y1="762.20" x2="188.50" y2="764.70" stroke="#333333" stroke-width="1.0"/>
<text x="188.39" y="775.00" font-size="9.60" text-anchor="middle">150</text>
<line x1="232.50" y1="762.20" x2="232.50" y2="764.70" stroke="#333333" stroke-width="1.0"/>
<text x="232.32" y="775.00" font-size="9.60" text-anchor="middle">200</text>
<text x="144.70" y="787.00" font-size="9.10" text-anchor="middle">Days</text>
<text x="32.60" y="697.50" font-size="9.00" text-anchor="middle" transform="rotate(-90 32.60 697.50)">Percent survival</text>
<path d="M56.50,645.50 L103.50,645.50 L103.50,664.50 L114.50,664.50 L114.50,684.50 L116.50,684.50 L116.50,703.50 L137.50,703.50 L137.50,733.50 L215.50,733.50" stroke="#8a55ad" stroke-width="1.0" fill="none"/>
<path d="M56.50,645.50 L100.50,645.50 L100.50,684.50 L109.50,684.50 L109.50,703.50 L113.50,703.50 L113.50,723.50 L119.50,723.50 L119.50,742.50 L215.50,742.50" stroke="#f5a46e" stroke-width="1.0" fill="none"/>
<path d="M56.50,645.50 L91.50,645.50 L91.50,664.50 L103.50,664.50 L103.50,684.50 L106.50,684.50 L106.50,703.50 L134.50,703.50 L134.50,723.50 L215.50,723.50" stroke="#c6cb56" stroke-width="1.0" fill="none"/>
<path d="M56.50,645.50 L103.50,645.50 L103.50,664.50 L215.50,664.50" stroke="#6a6a6a" stroke-width="1.0" fill="none"/>
<line x1="174.50" y1="664.99" x2="174.50" y2="662.79" stroke="#7a7a7a" stroke-width="0.9"/>
<line x1="215.50" y1="664.99" x2="215.50" y2="662.79" stroke="#7a7a7a" stroke-width="0.9"/>
<path d="M56.50,645.50 L82.50,645.50 L82.50,664.50 L88.50,664.50 L88.50,723.50 L103.50,723.50 L103.50,742.50 L106.50,742.50 L106.50,762.50" stroke="#6387d2" stroke-width="1.0" fill="none"/>
<path d="M56.50,645.50 L76.50,645.50 L76.50,684.50 L78.50,684.50 L78.50,703.50 L82.50,703.50 L82.50,762.50" stroke="#454545" stroke-width="1.0" fill="none"/>
<line x1="215.50" y1="733.03" x2="215.50" y2="730.83" stroke="#8a55ad" stroke-width="0.9"/>
<line x1="215.50" y1="742.71" x2="215.50" y2="740.51" stroke="#f5a46e" stroke-width="0.9"/>
<line x1="215.50" y1="723.34" x2="215.50" y2="721.14" stroke="#c6cb56" stroke-width="0.9"/>
<text x="307.90" y="646.30" font-size="11.80">AT3OVA 40 mg/kg Olaparib, 30 mg/kg AZD1775</text>
<line x1="346.40" y1="686.50" x2="354.40" y2="686.50" stroke="#333333" stroke-width="1.0"/>
<line x1="350.50" y1="683.80" x2="350.50" y2="686.60" stroke="#333333" stroke-width="1.0"/>
<text x="362.70" y="689.80" font-size="8.78">Vehicle</text>
<line x1="346.40" y1="700.50" x2="354.40" y2="700.50" stroke="#6387d2" stroke-width="1.0"/>
<line x1="350.50" y1="697.60" x2="350.50" y2="700.40" stroke="#6387d2" stroke-width="1.0"/>
<text x="362.70" y="703.60" font-size="8.78">Olaparib (40 mg/kg) + AZD1775 (30 mg/kg)</text>
<line x1="346.40" y1="713.50" x2="354.40" y2="713.50" stroke="#c6cb56" stroke-width="1.0"/>
<line x1="350.50" y1="711.10" x2="350.50" y2="713.90" stroke="#c6cb56" stroke-width="1.0"/>
<text x="362.70" y="717.10" font-size="8.78">Anti-PD1 (200µg) + ADU-S100 (40µg)</text>
<line x1="346.40" y1="727.50" x2="354.40" y2="727.50" stroke="#f27a45" stroke-width="1.0"/>
<line x1="350.50" y1="724.90" x2="350.50" y2="727.70" stroke="#f27a45" stroke-width="1.0"/>
<text x="362.70" y="730.90" font-size="8.78">Olaparib + AZD1775 + Anti-PD1</text>
<line x1="346.40" y1="742.50" x2="354.40" y2="742.50" stroke="#8a55ad" stroke-width="1.0"/>
<line x1="350.50" y1="739.30" x2="350.50" y2="742.10" stroke="#8a55ad" stroke-width="1.0"/>
<text x="362.70" y="745.30" font-size="8.78">Olaparib + AZD1775 + ADU-S100</text>
<line x1="346.40" y1="755.50" x2="354.40" y2="755.50" stroke="#7a7a7a" stroke-width="1.0"/>
<line x1="350.50" y1="752.80" x2="350.50" y2="755.60" stroke="#7a7a7a" stroke-width="1.0"/>
<text x="362.70" y="758.80" font-size="8.78">Olaparib + AZD1775 + Anti-PD1 + ADU-S100</text>
<line x1="338.50" y1="681.70" x2="338.50" y2="702.60" stroke="#555" stroke-width="1.0"/>
<line x1="314.50" y1="691.50" x2="338.90" y2="691.50" stroke="#555" stroke-width="1.0"/>
<line x1="314.50" y1="691.40" x2="314.50" y2="757.20" stroke="#555" stroke-width="1.0"/>
<line x1="314.50" y1="757.50" x2="319.60" y2="757.50" stroke="#555" stroke-width="1.0"/>
<line x1="319.50" y1="754.00" x2="319.50" y2="762.00" stroke="#555" stroke-width="1.0"/>
<text x="311.30" y="727.50" font-size="9.90" text-anchor="middle" transform="rotate(-90 311.30 727.50)">p<0.05</text>
<text x="323.05" y="750.65" font-size="15.62" font-weight="bold">*</text>
<line x1="332.50" y1="727.30" x2="332.50" y2="757.20" stroke="#555" stroke-width="1.0"/>
<line x1="332.50" y1="727.50" x2="338.00" y2="727.50" stroke="#555" stroke-width="1.0"/>
<line x1="332.50" y1="757.50" x2="338.00" y2="757.50" stroke="#555" stroke-width="1.0"/>
<line x1="300.50" y1="680.10" x2="300.50" y2="689.80" stroke="#555" stroke-width="1.0"/>
<line x1="290.40" y1="686.50" x2="300.40" y2="686.50" stroke="#555" stroke-width="1.0"/>
<line x1="290.50" y1="686.60" x2="290.50" y2="733.10" stroke="#555" stroke-width="1.0"/>
<line x1="290.40" y1="733.50" x2="300.40" y2="733.50" stroke="#555" stroke-width="1.0"/>
<line x1="300.50" y1="697.80" x2="300.50" y2="757.20" stroke="#555" stroke-width="1.0"/>
<text x="288.80" y="708.20" font-size="9.90" text-anchor="middle" transform="rotate(-90 288.80 708.20)">p<0.05</text>
<line x1="274.50" y1="694.60" x2="274.50" y2="704.20" stroke="#555" stroke-width="1.0"/>
<line x1="264.10" y1="698.50" x2="274.40" y2="698.50" stroke="#555" stroke-width="1.0"/>
<line x1="264.50" y1="698.40" x2="264.50" y2="742.80" stroke="#555" stroke-width="1.0"/>
<line x1="264.10" y1="742.50" x2="274.40" y2="742.50" stroke="#555" stroke-width="1.0"/>
<line x1="274.50" y1="712.30" x2="274.50" y2="757.20" stroke="#555" stroke-width="1.0"/>
<text x="262.50" y="719.40" font-size="9.90" text-anchor="middle" transform="rotate(-90 262.50 719.40)">p<0.05</text>
<line x1="500.50" y1="723.40" x2="500.50" y2="748.20" stroke="#555" stroke-width="1.0"/>
<text x="502.80" y="736.10" font-size="11.70" text-anchor="middle" transform="rotate(90 502.80 736.10)">ns</text>
<line x1="542.50" y1="734.30" x2="542.50" y2="759.90" stroke="#555" stroke-width="1.0"/>
<text x="545.20" y="747.80" font-size="11.70" text-anchor="middle" transform="rotate(90 545.20 747.80)">ns</text>
<line x1="558.50" y1="708.50" x2="558.50" y2="757.70" stroke="#555" stroke-width="1.0"/>
<text x="562.00" y="733.50" font-size="11.70" text-anchor="middle" transform="rotate(90 562.00 733.50)">ns</text>
<line x1="58.50" y1="794.40" x2="58.50" y2="929.30" stroke="#333333" stroke-width="1.0"/>
<line x1="58.40" y1="929.50" x2="243.40" y2="929.50" stroke="#333333" stroke-width="1.0"/>
<line x1="55.90" y1="806.50" x2="58.40" y2="806.50" stroke="#333333" stroke-width="1.0"/>
<text x="55.40" y="810.03" font-size="9.80" text-anchor="end">100</text>
<line x1="55.90" y1="867.50" x2="58.40" y2="867.50" stroke="#333333" stroke-width="1.0"/>
<text x="55.40" y="871.43" font-size="9.80" text-anchor="end">50</text>
<line x1="55.90" y1="929.50" x2="58.40" y2="929.50" stroke="#333333" stroke-width="1.0"/>
<text x="55.40" y="932.83" font-size="9.80" text-anchor="end">0</text>
<line x1="58.50" y1="929.30" x2="58.50" y2="931.80" stroke="#333333" stroke-width="1.0"/>
<text x="58.40" y="943.00" font-size="9.80" text-anchor="middle">0</text>
<line x1="104.50" y1="929.30" x2="104.50" y2="931.80" stroke="#333333" stroke-width="1.0"/>
<text x="104.65" y="943.00" font-size="9.80" text-anchor="middle">50</text>
<line x1="150.50" y1="929.30" x2="150.50" y2="931.80" stroke="#333333" stroke-width="1.0"/>
<text x="150.90" y="943.00" font-size="9.80" text-anchor="middle">100</text>
<line x1="197.50" y1="929.30" x2="197.50" y2="931.80" stroke="#333333" stroke-width="1.0"/>
<text x="197.15" y="943.00" font-size="9.80" text-anchor="middle">150</text>
<line x1="243.50" y1="929.30" x2="243.50" y2="931.80" stroke="#333333" stroke-width="1.0"/>
<text x="243.40" y="943.00" font-size="9.80" text-anchor="middle">200</text>
<text x="150.70" y="955.50" font-size="9.60" text-anchor="middle">Days</text>
<text x="32.40" y="862.00" font-size="9.50" text-anchor="middle" transform="rotate(-90 32.40 862.00)">Percent survival</text>
<path d="M58.50,806.50 L113.50,806.50 L113.50,827.50 L139.50,827.50 L139.50,847.50 L143.50,847.50 L143.50,867.50 L152.50,867.50 L152.50,888.50 L201.50,888.50 L201.50,908.50 L225.50,908.50" stroke="#4cc27a" stroke-width="1.0" fill="none"/>
<path d="M58.50,806.50 L113.50,806.50 L113.50,827.50 L121.50,827.50 L121.50,847.50 L130.50,847.50 L130.50,867.50 L159.50,867.50 L159.50,888.50 L172.50,888.50 L172.50,908.50 L225.50,908.50" stroke="#6387d2" stroke-width="1.0" fill="none"/>
<path d="M58.50,806.50 L107.50,806.50 L107.50,827.50 L225.50,827.50" stroke="#9a9a9a" stroke-width="1.0" fill="none"/>
<line x1="182.50" y1="827.01" x2="182.50" y2="824.81" stroke="#7a7a7a" stroke-width="0.9"/>
<line x1="225.50" y1="827.01" x2="225.50" y2="824.81" stroke="#7a7a7a" stroke-width="0.9"/>
<path d="M58.50,806.50 L94.50,806.50 L94.50,827.50 L107.50,827.50 L107.50,847.50 L111.50,847.50 L111.50,867.50 L139.50,867.50 L139.50,888.50 L225.50,888.50" stroke="#c6cb56" stroke-width="1.0" fill="none"/>
<path d="M58.50,806.50 L111.50,806.50 L111.50,847.50 L114.50,847.50 L114.50,867.50 L133.50,867.50 L133.50,888.50 L150.50,888.50 L150.50,908.50 L185.50,908.50" stroke="#c8414f" stroke-width="1.0" fill="none"/>
<line x1="185.50" y1="908.79" x2="185.50" y2="906.59" stroke="#c8414f" stroke-width="0.9"/>
<line x1="107.50" y1="806.50" x2="107.50" y2="827.01" stroke="#333333" stroke-width="1.0"/>
<path d="M58.50,806.50 L87.50,806.50 L87.50,827.50 L91.50,827.50 L91.50,888.50 L104.50,888.50 L104.50,908.50 L107.50,908.50 L107.50,929.50" stroke="#f58a5a" stroke-width="1.0" fill="none"/>
<line x1="225.50" y1="888.41" x2="225.50" y2="886.21" stroke="#c6cb56" stroke-width="0.9"/>
<line x1="225.50" y1="908.79" x2="225.50" y2="906.59" stroke="#6387d2" stroke-width="0.9"/>
<line x1="350.90" y1="858.50" x2="358.90" y2="858.50" stroke="#f27a45" stroke-width="1.0"/>
<line x1="354.50" y1="855.50" x2="354.50" y2="858.30" stroke="#f27a45" stroke-width="1.0"/>
<text x="364.90" y="861.50" font-size="8.78">Anti-PD1 (Day 1) + ADU-S100 (Day 22)</text>
<line x1="350.90" y1="870.50" x2="358.90" y2="870.50" stroke="#c8414f" stroke-width="1.0"/>
<line x1="354.50" y1="868.00" x2="354.50" y2="870.80" stroke="#c8414f" stroke-width="1.0"/>
<text x="364.90" y="874.00" font-size="8.78">ADU-S100 (Day 1) + Anti-PD1 (Day 22)</text>
<line x1="350.90" y1="884.50" x2="358.90" y2="884.50" stroke="#c6cb56" stroke-width="1.0"/>
<line x1="354.50" y1="881.90" x2="354.50" y2="884.70" stroke="#c6cb56" stroke-width="1.0"/>
<text x="364.90" y="887.90" font-size="8.78">Anti-PD1 (Day 1) + ADU-S100 (Day 1)</text>
<line x1="350.90" y1="897.50" x2="358.90" y2="897.50" stroke="#6387d2" stroke-width="1.0"/>
<line x1="354.50" y1="894.40" x2="354.50" y2="897.20" stroke="#6387d2" stroke-width="1.0"/>
<text x="364.90" y="900.40" font-size="8.78">Olaparib + AZD1775 + Anti-PD1 (Day 1) + ADU-S100 (Day 22)</text>
<line x1="350.90" y1="909.50" x2="358.90" y2="909.50" stroke="#2f9e5c" stroke-width="1.0"/>
<line x1="354.50" y1="906.80" x2="354.50" y2="909.60" stroke="#2f9e5c" stroke-width="1.0"/>
<text x="364.90" y="912.80" font-size="8.78">Olaparib + AZD1775 + ADU-S100 (Day 1) + Anti-PD1 (Day 22)</text>
<line x1="350.90" y1="925.50" x2="358.90" y2="925.50" stroke="#7a7a7a" stroke-width="1.0"/>
<line x1="354.50" y1="922.60" x2="354.50" y2="925.40" stroke="#7a7a7a" stroke-width="1.0"/>
<text x="364.90" y="928.60" font-size="8.78">Olaparib + AZD1775 + Anti-PD1 (Day 1) + ADU-S100 (Day 1)</text>
<line x1="318.50" y1="856.10" x2="318.50" y2="902.70" stroke="#555" stroke-width="1.0"/>
<text x="307.75" y="880.55" font-size="15.62" font-weight="bold" transform="rotate(-90 310.80 872.70)">*</text>
<text x="307.75" y="887.25" font-size="15.62" font-weight="bold" transform="rotate(-90 310.80 879.40)">*</text>
<text x="307.75" y="893.95" font-size="15.62" font-weight="bold" transform="rotate(-90 310.80 886.10)">*</text>
<line x1="334.50" y1="862.20" x2="334.50" y2="915.70" stroke="#555" stroke-width="1.0"/>
<text x="329.20" y="888.00" font-size="9.30" text-anchor="middle" transform="rotate(-90 329.20 888.00)">ns</text>
<line x1="346.50" y1="881.10" x2="346.50" y2="928.20" stroke="#555" stroke-width="1.0"/>
<text x="342.40" y="904.60" font-size="9.30" text-anchor="middle" transform="rotate(-90 342.40 904.60)">ns</text>
<line x1="529.50" y1="863.60" x2="529.50" y2="890.90" stroke="#555" stroke-width="1.0"/>
<text x="532.40" y="877.20" font-size="9.30" text-anchor="middle" transform="rotate(90 532.40 877.20)">ns</text>
<line x1="544.50" y1="848.70" x2="544.50" y2="876.00" stroke="#555" stroke-width="1.0"/>
<text x="548.86" y="861.94" font-size="13.02" font-weight="bold">*</text>
<text x="548.86" y="869.34" font-size="13.02" font-weight="bold">*</text>
<text x="548.86" y="876.84" font-size="13.02" font-weight="bold">*</text>
<line x1="560.50" y1="845.50" x2="560.50" y2="887.20" stroke="#555" stroke-width="1.0"/>
<text x="565.46" y="870.14" font-size="13.02" font-weight="bold">*</text>
<text x="565.46" y="877.54" font-size="13.02" font-weight="bold">*</text>
</svg>
</body></html>
